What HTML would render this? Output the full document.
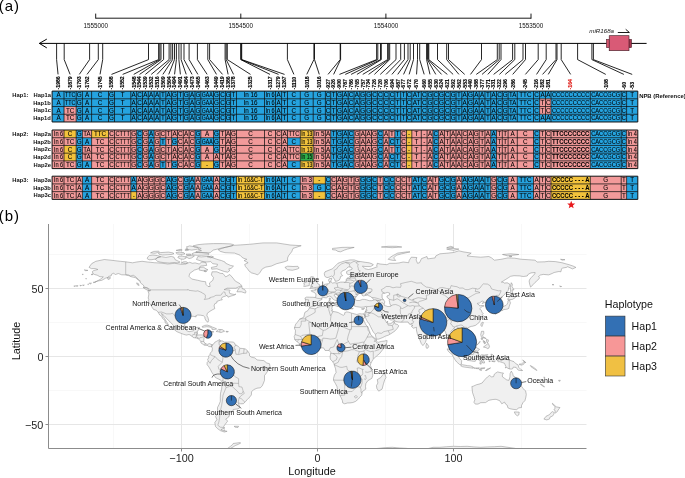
<!DOCTYPE html>
<html><head><meta charset="utf-8"><style>
html,body{margin:0;padding:0;background:#fff;}
body{width:685px;height:478px;overflow:hidden;}
svg{display:block;will-change:transform;font-family:"Liberation Sans",sans-serif;}
</style></head><body>
<svg width="685" height="478" viewBox="0 0 685 478">
<text x="-1.2" y="11" font-size="15" letter-spacing="0.9" fill="#000">(a)</text>
<g stroke="#000" stroke-width="0.9" fill="none">
<path d="M95.7,18.2H531.2"/>
<path d="M95.7,13.6V18.6"/>
<path d="M240.8,13.6V18.6"/>
<path d="M385.9,13.6V18.6"/>
<path d="M531.0,13.6V18.6"/>
</g>
<text x="95.7" y="27.9" font-size="6.3" text-anchor="middle" fill="#111">1555000</text>
<text x="240.8" y="27.9" font-size="6.3" text-anchor="middle" fill="#111">1554500</text>
<text x="385.9" y="27.9" font-size="6.3" text-anchor="middle" fill="#111">1554000</text>
<text x="531.0" y="27.9" font-size="6.3" text-anchor="middle" fill="#111">1553500</text>
<g stroke="#000" stroke-width="1" fill="none">
<path d="M39.2,43.4H646.6"/>
<path d="M46.8,39.1L39.4,43.4L46.8,47.9"/>
</g>
<rect x="606.3" y="39.3" width="3.2" height="8.4" fill="#d4566f" stroke="#3a1a22" stroke-width="0.5"/>
<rect x="628.8" y="39.3" width="2.8" height="8.4" fill="#a8344f" stroke="#3a1a22" stroke-width="0.5"/>
<rect x="609.2" y="35.7" width="19.8" height="15.0" fill="#d95a76" stroke="#3a1a22" stroke-width="0.6"/>
<text x="589.3" y="33.1" font-size="6.2" font-style="italic" fill="#111">miR168a</text>
<path d="M617.8,32.5H629.4L625.7,29.3" stroke="#000" stroke-width="0.9" fill="none"/>
<path stroke="#000" stroke-width="0.85" fill="none" d="M56.6,43.4V59.6L58.05,74.4M64.2,43.4V59.6L70.1,74.4M89.6,43.4V59.6L79.3,74.4M98.3,43.4V59.6L87,74.4M102.7,43.4V59.6L100.05,74.4M148.5,43.4V59.6L111.5,74.4M158.6,43.4V59.6L122.65,74.4M159.8,43.4V59.6L133.72,74.4M161,43.4V59.6L139.55,74.4M163.6,43.4V59.6L145.38,74.4M169.1,43.4V59.6L151.22,74.4M170.9,43.4V59.6L157.05,74.4M172.6,43.4V59.6L162.88,74.4M174.5,43.4V59.6L168.72,74.4M176.4,43.4V59.6L174.55,74.4M178.9,43.4V59.6L180.38,74.4M181.1,43.4V59.6L186.22,74.4M184,43.4V59.6L192.05,74.4M189.1,43.4V59.6L197.88,74.4M197.4,43.4V59.6L207.15,74.4M207.8,43.4V59.6L216.5,74.4M209.6,43.4V59.6L222.55,74.4M225.1,43.4V59.6L228.1,74.4M226.2,43.4V59.6L233.55,74.4M227.3,43.4V59.6L250.5,74.4M240.7,43.4V59.6L270,74.4M241.2,43.4V59.6L278.55,74.4M241.7,43.4V59.6L284.55,74.4M287.4,43.4V59.6L293.9,74.4M313.9,43.4V59.6L306.75,74.4M314.5,43.4V59.6L319.3,74.4M340.2,43.4V59.6L328.05,74.4M340.6,43.4V59.6L333.62,74.4M376.6,43.4V59.6L339.44,74.4M377.8,43.4V59.6L345.27,74.4M380.5,43.4V59.6L351.11,74.4M381.3,43.4V59.6L356.93,74.4M387.6,43.4V59.6L362.76,74.4M388.7,43.4V59.6L368.6,74.4M389.7,43.4V59.6L374.42,74.4M396,43.4V59.6L380.25,74.4M400.7,43.4V59.6L386.08,74.4M404.4,43.4V59.6L391.91,74.4M408,43.4V59.6L397.75,74.4M410.2,43.4V59.6L403.57,74.4M413.5,43.4V59.6L409.14,74.4M417.5,43.4V59.6L416.55,74.4M419.7,43.4V59.6L424.19,74.4M426.6,43.4V59.6L429.98,74.4M427.4,43.4V59.6L435.77,74.4M428.2,43.4V59.6L441.55,74.4M428.8,43.4V59.6L447.34,74.4M437.5,43.4V59.6L453.13,74.4M446.7,43.4V59.6L458.91,74.4M448.5,43.4V59.6L464.7,74.4M481.5,43.4V59.6L470.49,74.4M497.3,43.4V59.6L476.27,74.4M499.2,43.4V59.6L482.06,74.4M501,43.4V59.6L487.85,74.4M512.6,43.4V59.6L493.63,74.4M514.8,43.4V59.6L499.42,74.4M523,43.4V59.6L505.21,74.4M525.5,43.4V59.6L512.7,74.4M538.2,43.4V59.6L525.4,74.4M546.2,43.4V59.6L536.55,74.4M556,43.4V59.6L542.55,74.4M557,43.4V59.6L548.25,74.4M561.2,43.4V59.6L570.65,74.4M577.6,43.4V59.6L605.75,74.4M591.9,43.4V59.6L623.9,74.4M593.4,43.4V59.6L632.2,74.4"/>
<g font-size="5.1" font-weight="bold" fill="#000" stroke="#000" stroke-width="0.15">
<text transform="translate(59.85,89.4) rotate(-90)">-1986</text>
<text transform="translate(71.9,89.4) rotate(-90)">-1879</text>
<text transform="translate(81.1,89.4) rotate(-90)">-1793</text>
<text transform="translate(88.8,89.4) rotate(-90)">-1762</text>
<text transform="translate(101.85,89.4) rotate(-90)">-1745</text>
<text transform="translate(113.3,89.4) rotate(-90)">-1588</text>
<text transform="translate(124.45,89.4) rotate(-90)">-1552</text>
<text transform="translate(135.52,89.4) rotate(-90)">-1548</text>
<text transform="translate(141.35,89.4) rotate(-90)">-1544</text>
<text transform="translate(147.18,89.4) rotate(-90)">-1539</text>
<text transform="translate(153.02,89.4) rotate(-90)">-1532</text>
<text transform="translate(158.85,89.4) rotate(-90)">-1516</text>
<text transform="translate(164.68,89.4) rotate(-90)">-1509</text>
<text transform="translate(170.52,89.4) rotate(-90)">-1504</text>
<text transform="translate(176.35,89.4) rotate(-90)">-1494</text>
<text transform="translate(182.18,89.4) rotate(-90)">-1491</text>
<text transform="translate(188.02,89.4) rotate(-90)">-1484</text>
<text transform="translate(193.85,89.4) rotate(-90)">-1473</text>
<text transform="translate(199.68,89.4) rotate(-90)">-1465</text>
<text transform="translate(208.95,89.4) rotate(-90)">-1463</text>
<text transform="translate(218.3,89.4) rotate(-90)">-1449</text>
<text transform="translate(224.35,89.4) rotate(-90)">-1419</text>
<text transform="translate(229.9,89.4) rotate(-90)">-1386</text>
<text transform="translate(235.35,89.4) rotate(-90)">-1378</text>
<text transform="translate(252.3,89.4) rotate(-90)">-1325</text>
<text transform="translate(271.8,89.4) rotate(-90)">-1317</text>
<text transform="translate(280.35,89.4) rotate(-90)">-1279</text>
<text transform="translate(286.35,89.4) rotate(-90)">-1267</text>
<text transform="translate(295.7,89.4) rotate(-90)">-1110</text>
<text transform="translate(308.55,89.4) rotate(-90)">-1018</text>
<text transform="translate(321.1,89.4) rotate(-90)">-1016</text>
<text transform="translate(329.85,89.4) rotate(-90)">-927</text>
<text transform="translate(335.42,89.4) rotate(-90)">-926</text>
<text transform="translate(341.25,89.4) rotate(-90)">-900</text>
<text transform="translate(347.07,89.4) rotate(-90)">-787</text>
<text transform="translate(352.91,89.4) rotate(-90)">-786</text>
<text transform="translate(358.73,89.4) rotate(-90)">-765</text>
<text transform="translate(364.56,89.4) rotate(-90)">-757</text>
<text transform="translate(370.4,89.4) rotate(-90)">-734</text>
<text transform="translate(376.22,89.4) rotate(-90)">-726</text>
<text transform="translate(382.06,89.4) rotate(-90)">-720</text>
<text transform="translate(387.88,89.4) rotate(-90)">-706</text>
<text transform="translate(393.71,89.4) rotate(-90)">-694</text>
<text transform="translate(399.55,89.4) rotate(-90)">-687</text>
<text transform="translate(405.38,89.4) rotate(-90)">-677</text>
<text transform="translate(410.94,89.4) rotate(-90)">-672</text>
<text transform="translate(418.35,89.4) rotate(-90)">-670</text>
<text transform="translate(425.99,89.4) rotate(-90)">-660</text>
<text transform="translate(431.78,89.4) rotate(-90)">-655</text>
<text transform="translate(437.57,89.4) rotate(-90)">-630</text>
<text transform="translate(443.35,89.4) rotate(-90)">-624</text>
<text transform="translate(449.14,89.4) rotate(-90)">-621</text>
<text transform="translate(454.93,89.4) rotate(-90)">-592</text>
<text transform="translate(460.71,89.4) rotate(-90)">-562</text>
<text transform="translate(466.5,89.4) rotate(-90)">-553</text>
<text transform="translate(472.29,89.4) rotate(-90)">-440</text>
<text transform="translate(478.07,89.4) rotate(-90)">-388</text>
<text transform="translate(483.86,89.4) rotate(-90)">-377</text>
<text transform="translate(489.65,89.4) rotate(-90)">-371</text>
<text transform="translate(495.43,89.4) rotate(-90)">-331</text>
<text transform="translate(501.22,89.4) rotate(-90)">-322</text>
<text transform="translate(507.01,89.4) rotate(-90)">-296</text>
<text transform="translate(514.5,89.4) rotate(-90)">-286</text>
<text transform="translate(527.2,89.4) rotate(-90)">-245</text>
<text transform="translate(538.35,89.4) rotate(-90)">-216</text>
<text transform="translate(544.35,89.4) rotate(-90)">-182</text>
<text transform="translate(550.05,89.4) rotate(-90)">-181</text>
<text transform="translate(572.45,89.4) rotate(-90)" fill="#e0201b" stroke="#e0201b">-164</text>
<text transform="translate(607.55,89.4) rotate(-90)">-108</text>
<text transform="translate(625.7,89.4) rotate(-90)">-60</text>
<text transform="translate(634,89.4) rotate(-90)">-53</text>
</g>
<g font-size="5.8" font-weight="bold" fill="#111">
<text x="12.3" y="96.9">Hap1:</text>
<text x="50.9" y="96.9" text-anchor="end">Hap1a</text>
<text x="50.9" y="104.62" text-anchor="end">Hap1b</text>
<text x="50.9" y="112.34" text-anchor="end">Hap1c</text>
<text x="50.9" y="120.06" text-anchor="end">Hap1d</text>
<text x="12.3" y="135.8">Hap2:</text>
<text x="50.9" y="135.8" text-anchor="end">Hap2a</text>
<text x="50.9" y="143.52" text-anchor="end">Hap2b</text>
<text x="50.9" y="151.24" text-anchor="end">Hap2c</text>
<text x="50.9" y="158.96" text-anchor="end">Hap2d</text>
<text x="50.9" y="166.68" text-anchor="end">Hap2e</text>
<text x="12.3" y="182">Hap3:</text>
<text x="50.9" y="182" text-anchor="end">Hap3a</text>
<text x="50.9" y="189.72" text-anchor="end">Hap3b</text>
<text x="50.9" y="197.44" text-anchor="end">Hap3c</text>
</g>
<path fill="#25a3df" d="M52.1,91.1h585.7v7.72h-585.7zM52.1,98.82h487.5v7.72h-487.5zM551,98.82h86.8v7.72h-86.8zM52.1,106.54h11.9v7.72h-11.9zM76.2,106.54h463.4v7.72h-463.4zM551,106.54h86.8v7.72h-86.8zM52.1,114.26h11.9v7.72h-11.9zM76.2,114.26h561.6v7.72h-561.6zM76.2,130h6.2v7.72h-6.2zM136.63,130h5.83v7.72h-5.83zM148.3,130h5.83v7.72h-5.83zM194.97,130h5.83v7.72h-5.83zM213.5,130h6v7.72h-6zM330.7,130h23.32v7.72h-23.32zM377.34,130h5.83v7.72h-5.83zM394.83,130h5.83v7.72h-5.83zM432.87,130h5.79v7.72h-5.79zM490.74,130h5.79v7.72h-5.79zM533.5,130h6.1v7.72h-6.1zM590.3,130h36.3v7.72h-36.3zM76.2,137.72h15.4v7.72h-15.4zM136.63,137.72h5.83v7.72h-5.83zM148.3,137.72h5.83v7.72h-5.83zM159.97,137.72h5.83v7.72h-5.83zM171.63,137.72h5.83v7.72h-5.83zM194.97,137.72h24.53v7.72h-24.53zM287.5,137.72h12.8v7.72h-12.8zM330.7,137.72h23.32v7.72h-23.32zM377.34,137.72h5.83v7.72h-5.83zM389,137.72h11.66v7.72h-11.66zM432.87,137.72h5.79v7.72h-5.79zM490.74,137.72h5.79v7.72h-5.79zM533.5,137.72h6.1v7.72h-6.1zM590.3,137.72h36.3v7.72h-36.3zM76.2,145.44h6.2v7.72h-6.2zM136.63,145.44h5.83v7.72h-5.83zM148.3,145.44h5.83v7.72h-5.83zM194.97,145.44h5.83v7.72h-5.83zM213.5,145.44h6v7.72h-6zM330.7,145.44h23.32v7.72h-23.32zM377.34,145.44h5.83v7.72h-5.83zM394.83,145.44h5.83v7.72h-5.83zM432.87,145.44h5.79v7.72h-5.79zM490.74,145.44h5.79v7.72h-5.79zM533.5,145.44h6.1v7.72h-6.1zM590.3,145.44h36.3v7.72h-36.3zM76.2,153.16h6.2v7.72h-6.2zM136.63,153.16h5.83v7.72h-5.83zM148.3,153.16h5.83v7.72h-5.83zM194.97,153.16h5.83v7.72h-5.83zM330.7,153.16h23.32v7.72h-23.32zM377.34,153.16h5.83v7.72h-5.83zM389,153.16h11.66v7.72h-11.66zM432.87,153.16h5.79v7.72h-5.79zM490.74,153.16h5.79v7.72h-5.79zM533.5,153.16h6.1v7.72h-6.1zM590.3,153.16h36.3v7.72h-36.3zM76.2,160.88h15.4v7.72h-15.4zM136.63,160.88h5.83v7.72h-5.83zM148.3,160.88h5.83v7.72h-5.83zM159.97,160.88h5.83v7.72h-5.83zM171.63,160.88h5.83v7.72h-5.83zM194.97,160.88h5.83v7.72h-5.83zM213.5,160.88h6v7.72h-6zM287.5,160.88h12.8v7.72h-12.8zM330.7,160.88h23.32v7.72h-23.32zM377.34,160.88h5.83v7.72h-5.83zM389,160.88h11.66v7.72h-11.66zM432.87,160.88h5.79v7.72h-5.79zM490.74,160.88h5.79v7.72h-5.79zM533.5,160.88h6.1v7.72h-6.1zM590.3,160.88h36.3v7.72h-36.3zM82.4,176.2h9.2v7.72h-9.2zM130.8,176.2h5.83v7.72h-5.83zM165.8,176.2h11.67v7.72h-11.67zM183.3,176.2h11.67v7.72h-11.67zM200.8,176.2h12.7v7.72h-12.7zM219.5,176.2h17v7.72h-17zM264.5,176.2h35.8v7.72h-35.8zM325.4,176.2h5.3v7.72h-5.3zM359.85,176.2h17.49v7.72h-17.49zM383.17,176.2h11.66v7.72h-11.66zM411.8,176.2h15.29v7.72h-15.29zM438.66,176.2h17.36v7.72h-17.36zM461.81,176.2h28.93v7.72h-28.93zM496.53,176.2h11.57v7.72h-11.57zM517.3,176.2h16.2v7.72h-16.2zM626.6,176.2h11.2v7.72h-11.2zM82.4,183.92h9.2v7.72h-9.2zM130.8,183.92h5.83v7.72h-5.83zM165.8,183.92h11.67v7.72h-11.67zM183.3,183.92h11.67v7.72h-11.67zM200.8,183.92h12.7v7.72h-12.7zM219.5,183.92h17v7.72h-17zM264.5,183.92h35.8v7.72h-35.8zM313.2,183.92h17.5v7.72h-17.5zM359.85,183.92h17.49v7.72h-17.49zM383.17,183.92h11.66v7.72h-11.66zM411.8,183.92h15.29v7.72h-15.29zM438.66,183.92h17.36v7.72h-17.36zM461.81,183.92h28.93v7.72h-28.93zM496.53,183.92h11.57v7.72h-11.57zM517.3,183.92h16.2v7.72h-16.2zM626.6,183.92h11.2v7.72h-11.2zM82.4,191.64h9.2v7.72h-9.2zM165.8,191.64h11.67v7.72h-11.67zM183.3,191.64h11.67v7.72h-11.67zM200.8,191.64h12.7v7.72h-12.7zM219.5,191.64h17v7.72h-17zM264.5,191.64h35.8v7.72h-35.8zM325.4,191.64h5.3v7.72h-5.3zM359.85,191.64h17.49v7.72h-17.49zM383.17,191.64h11.66v7.72h-11.66zM411.8,191.64h15.29v7.72h-15.29zM438.66,191.64h17.36v7.72h-17.36zM461.81,191.64h28.93v7.72h-28.93zM496.53,191.64h11.57v7.72h-11.57zM517.3,191.64h16.2v7.72h-16.2zM626.6,191.64h11.2v7.72h-11.2z"/>
<path fill="#f29a9a" d="M539.6,98.82h11.4v7.72h-11.4zM64,106.54h12.2v7.72h-12.2zM539.6,106.54h11.4v7.72h-11.4zM64,114.26h12.2v7.72h-12.2zM52.1,130h11.9v7.72h-11.9zM82.4,130h9.2v7.72h-9.2zM108.5,130h28.13v7.72h-28.13zM142.47,130h5.83v7.72h-5.83zM154.13,130h40.83v7.72h-40.83zM200.8,130h12.7v7.72h-12.7zM219.5,130h80.8v7.72h-80.8zM313.2,130h17.5v7.72h-17.5zM354.02,130h23.32v7.72h-23.32zM383.17,130h11.66v7.72h-11.66zM400.66,130h5.83v7.72h-5.83zM411.8,130h21.07v7.72h-21.07zM438.66,130h52.08v7.72h-52.08zM496.53,130h36.97v7.72h-36.97zM539.6,130h50.7v7.72h-50.7zM626.6,130h11.2v7.72h-11.2zM52.1,137.72h24.1v7.72h-24.1zM91.6,137.72h45.03v7.72h-45.03zM142.47,137.72h5.83v7.72h-5.83zM154.13,137.72h5.83v7.72h-5.83zM165.8,137.72h5.83v7.72h-5.83zM177.47,137.72h17.5v7.72h-17.5zM219.5,137.72h68v7.72h-68zM313.2,137.72h17.5v7.72h-17.5zM354.02,137.72h23.32v7.72h-23.32zM383.17,137.72h5.83v7.72h-5.83zM400.66,137.72h5.83v7.72h-5.83zM411.8,137.72h21.07v7.72h-21.07zM438.66,137.72h52.08v7.72h-52.08zM496.53,137.72h36.97v7.72h-36.97zM539.6,137.72h50.7v7.72h-50.7zM626.6,137.72h11.2v7.72h-11.2zM52.1,145.44h11.9v7.72h-11.9zM82.4,145.44h54.23v7.72h-54.23zM142.47,145.44h5.83v7.72h-5.83zM154.13,145.44h40.83v7.72h-40.83zM200.8,145.44h12.7v7.72h-12.7zM219.5,145.44h80.8v7.72h-80.8zM313.2,145.44h17.5v7.72h-17.5zM354.02,145.44h23.32v7.72h-23.32zM383.17,145.44h11.66v7.72h-11.66zM400.66,145.44h5.83v7.72h-5.83zM411.8,145.44h21.07v7.72h-21.07zM438.66,145.44h52.08v7.72h-52.08zM496.53,145.44h36.97v7.72h-36.97zM539.6,145.44h50.7v7.72h-50.7zM626.6,145.44h11.2v7.72h-11.2zM52.1,153.16h11.9v7.72h-11.9zM82.4,153.16h54.23v7.72h-54.23zM142.47,153.16h5.83v7.72h-5.83zM154.13,153.16h40.83v7.72h-40.83zM200.8,153.16h99.5v7.72h-99.5zM313.2,153.16h17.5v7.72h-17.5zM354.02,153.16h23.32v7.72h-23.32zM383.17,153.16h5.83v7.72h-5.83zM400.66,153.16h5.83v7.72h-5.83zM411.8,153.16h21.07v7.72h-21.07zM438.66,153.16h52.08v7.72h-52.08zM496.53,153.16h36.97v7.72h-36.97zM539.6,153.16h50.7v7.72h-50.7zM626.6,153.16h11.2v7.72h-11.2zM52.1,160.88h24.1v7.72h-24.1zM91.6,160.88h45.03v7.72h-45.03zM142.47,160.88h5.83v7.72h-5.83zM154.13,160.88h5.83v7.72h-5.83zM165.8,160.88h5.83v7.72h-5.83zM177.47,160.88h17.5v7.72h-17.5zM219.5,160.88h68v7.72h-68zM313.2,160.88h17.5v7.72h-17.5zM354.02,160.88h23.32v7.72h-23.32zM383.17,160.88h5.83v7.72h-5.83zM400.66,160.88h5.83v7.72h-5.83zM411.8,160.88h21.07v7.72h-21.07zM438.66,160.88h52.08v7.72h-52.08zM496.53,160.88h36.97v7.72h-36.97zM539.6,160.88h50.7v7.72h-50.7zM626.6,160.88h11.2v7.72h-11.2zM52.1,176.2h30.3v7.72h-30.3zM91.6,176.2h39.2v7.72h-39.2zM136.63,176.2h29.17v7.72h-29.17zM177.47,176.2h5.83v7.72h-5.83zM194.97,176.2h5.83v7.72h-5.83zM213.5,176.2h6v7.72h-6zM300.3,176.2h12.9v7.72h-12.9zM330.7,176.2h29.15v7.72h-29.15zM377.34,176.2h5.83v7.72h-5.83zM394.83,176.2h16.97v7.72h-16.97zM427.09,176.2h11.57v7.72h-11.57zM456.02,176.2h5.79v7.72h-5.79zM490.74,176.2h5.79v7.72h-5.79zM508.1,176.2h9.2v7.72h-9.2zM533.5,176.2h17.5v7.72h-17.5zM590.3,176.2h36.3v7.72h-36.3zM52.1,183.92h30.3v7.72h-30.3zM91.6,183.92h39.2v7.72h-39.2zM136.63,183.92h29.17v7.72h-29.17zM177.47,183.92h5.83v7.72h-5.83zM194.97,183.92h5.83v7.72h-5.83zM213.5,183.92h6v7.72h-6zM300.3,183.92h12.9v7.72h-12.9zM330.7,183.92h29.15v7.72h-29.15zM377.34,183.92h5.83v7.72h-5.83zM394.83,183.92h16.97v7.72h-16.97zM427.09,183.92h11.57v7.72h-11.57zM456.02,183.92h5.79v7.72h-5.79zM490.74,183.92h5.79v7.72h-5.79zM508.1,183.92h9.2v7.72h-9.2zM533.5,183.92h17.5v7.72h-17.5zM590.3,183.92h36.3v7.72h-36.3zM52.1,191.64h30.3v7.72h-30.3zM91.6,191.64h39.2v7.72h-39.2zM136.63,191.64h29.17v7.72h-29.17zM177.47,191.64h5.83v7.72h-5.83zM194.97,191.64h5.83v7.72h-5.83zM213.5,191.64h6v7.72h-6zM300.3,191.64h12.9v7.72h-12.9zM330.7,191.64h29.15v7.72h-29.15zM377.34,191.64h5.83v7.72h-5.83zM394.83,191.64h16.97v7.72h-16.97zM427.09,191.64h11.57v7.72h-11.57zM456.02,191.64h5.79v7.72h-5.79zM490.74,191.64h5.79v7.72h-5.79zM508.1,191.64h9.2v7.72h-9.2zM533.5,191.64h17.5v7.72h-17.5zM590.3,191.64h36.3v7.72h-36.3z"/>
<path fill="#f2c23c" d="M64,130h12.2v7.72h-12.2zM91.6,130h16.9v7.72h-16.9zM300.3,130h12.9v7.72h-12.9zM406.49,130h5.31v7.72h-5.31zM300.3,137.72h12.9v7.72h-12.9zM406.49,137.72h5.31v7.72h-5.31zM64,145.44h12.2v7.72h-12.2zM300.3,145.44h12.9v7.72h-12.9zM406.49,145.44h5.31v7.72h-5.31zM64,153.16h12.2v7.72h-12.2zM406.49,153.16h5.31v7.72h-5.31zM200.8,160.88h12.7v7.72h-12.7zM300.3,160.88h12.9v7.72h-12.9zM406.49,160.88h5.31v7.72h-5.31zM236.5,176.2h28v7.72h-28zM313.2,176.2h12.2v7.72h-12.2zM551,176.2h39.3v7.72h-39.3zM236.5,183.92h28v7.72h-28zM551,183.92h39.3v7.72h-39.3zM130.8,191.64h5.83v7.72h-5.83zM236.5,191.64h28v7.72h-28zM313.2,191.64h12.2v7.72h-12.2zM551,191.64h39.3v7.72h-39.3z"/>
<path fill="#2eaf4a" d="M300.3,153.16h12.9v7.72h-12.9z"/>
<path fill="none" stroke="#111" stroke-width="0.75" d="M52.1,98.82H637.8M52.1,106.54H637.8M52.1,114.26H637.8M64,91.1v30.88M76.2,91.1v30.88M82.4,91.1v30.88M91.6,91.1v30.88M108.5,91.1v30.88M114.5,91.1v30.88M130.8,91.1v30.88M136.63,91.1v30.88M142.47,91.1v30.88M148.3,91.1v30.88M154.13,91.1v30.88M159.97,91.1v30.88M165.8,91.1v30.88M171.63,91.1v30.88M177.47,91.1v30.88M183.3,91.1v30.88M189.13,91.1v30.88M194.97,91.1v30.88M200.8,91.1v30.88M213.5,91.1v30.88M219.5,91.1v30.88M225.6,91.1v30.88M230.6,91.1v30.88M236.5,91.1v30.88M264.5,91.1v30.88M275.5,91.1v30.88M281.6,91.1v30.88M287.5,91.1v30.88M300.3,91.1v30.88M313.2,91.1v30.88M325.4,91.1v30.88M330.7,91.1v30.88M336.53,91.1v30.88M342.36,91.1v30.88M348.19,91.1v30.88M354.02,91.1v30.88M359.85,91.1v30.88M365.68,91.1v30.88M371.51,91.1v30.88M377.34,91.1v30.88M383.17,91.1v30.88M389,91.1v30.88M394.83,91.1v30.88M400.66,91.1v30.88M406.49,91.1v30.88M411.8,91.1v30.88M421.3,91.1v30.88M427.09,91.1v30.88M432.87,91.1v30.88M438.66,91.1v30.88M444.45,91.1v30.88M450.23,91.1v30.88M456.02,91.1v30.88M461.81,91.1v30.88M467.59,91.1v30.88M473.38,91.1v30.88M479.17,91.1v30.88M484.95,91.1v30.88M490.74,91.1v30.88M496.53,91.1v30.88M502.31,91.1v30.88M508.1,91.1v30.88M517.3,91.1v30.88M533.5,91.1v30.88M539.6,91.1v30.88M545.5,91.1v30.88M551,91.1v30.88M590.3,91.1v30.88M621.2,91.1v30.88M626.6,91.1v30.88M52.1,137.72H637.8M52.1,145.44H637.8M52.1,153.16H637.8M52.1,160.88H637.8M64,130v38.6M76.2,130v38.6M82.4,130v38.6M91.6,130v38.6M108.5,130v38.6M114.5,130v38.6M130.8,130v38.6M136.63,130v38.6M142.47,130v38.6M148.3,130v38.6M154.13,130v38.6M159.97,130v38.6M165.8,130v38.6M171.63,130v38.6M177.47,130v38.6M183.3,130v38.6M189.13,130v38.6M194.97,130v38.6M200.8,130v38.6M213.5,130v38.6M219.5,130v38.6M225.6,130v38.6M230.6,130v38.6M236.5,130v38.6M264.5,130v38.6M275.5,130v38.6M281.6,130v38.6M287.5,130v38.6M300.3,130v38.6M313.2,130v38.6M325.4,130v38.6M330.7,130v38.6M336.53,130v38.6M342.36,130v38.6M348.19,130v38.6M354.02,130v38.6M359.85,130v38.6M365.68,130v38.6M371.51,130v38.6M377.34,130v38.6M383.17,130v38.6M389,130v38.6M394.83,130v38.6M400.66,130v38.6M406.49,130v38.6M411.8,130v38.6M421.3,130v38.6M427.09,130v38.6M432.87,130v38.6M438.66,130v38.6M444.45,130v38.6M450.23,130v38.6M456.02,130v38.6M461.81,130v38.6M467.59,130v38.6M473.38,130v38.6M479.17,130v38.6M484.95,130v38.6M490.74,130v38.6M496.53,130v38.6M502.31,130v38.6M508.1,130v38.6M517.3,130v38.6M533.5,130v38.6M539.6,130v38.6M545.5,130v38.6M551,130v38.6M590.3,130v38.6M621.2,130v38.6M626.6,130v38.6M52.1,183.92H637.8M52.1,191.64H637.8M64,176.2v23.16M76.2,176.2v23.16M82.4,176.2v23.16M91.6,176.2v23.16M108.5,176.2v23.16M114.5,176.2v23.16M130.8,176.2v23.16M136.63,176.2v23.16M142.47,176.2v23.16M148.3,176.2v23.16M154.13,176.2v23.16M159.97,176.2v23.16M165.8,176.2v23.16M171.63,176.2v23.16M177.47,176.2v23.16M183.3,176.2v23.16M189.13,176.2v23.16M194.97,176.2v23.16M200.8,176.2v23.16M213.5,176.2v23.16M219.5,176.2v23.16M225.6,176.2v23.16M230.6,176.2v23.16M236.5,176.2v23.16M264.5,176.2v23.16M275.5,176.2v23.16M281.6,176.2v23.16M287.5,176.2v23.16M300.3,176.2v23.16M313.2,176.2v23.16M325.4,176.2v23.16M330.7,176.2v23.16M336.53,176.2v23.16M342.36,176.2v23.16M348.19,176.2v23.16M354.02,176.2v23.16M359.85,176.2v23.16M365.68,176.2v23.16M371.51,176.2v23.16M377.34,176.2v23.16M383.17,176.2v23.16M389,176.2v23.16M394.83,176.2v23.16M400.66,176.2v23.16M406.49,176.2v23.16M411.8,176.2v23.16M421.3,176.2v23.16M427.09,176.2v23.16M432.87,176.2v23.16M438.66,176.2v23.16M444.45,176.2v23.16M450.23,176.2v23.16M456.02,176.2v23.16M461.81,176.2v23.16M467.59,176.2v23.16M473.38,176.2v23.16M479.17,176.2v23.16M484.95,176.2v23.16M490.74,176.2v23.16M496.53,176.2v23.16M502.31,176.2v23.16M508.1,176.2v23.16M517.3,176.2v23.16M533.5,176.2v23.16M539.6,176.2v23.16M545.5,176.2v23.16M551,176.2v23.16M590.3,176.2v23.16M621.2,176.2v23.16M626.6,176.2v23.16"/>
<path fill="none" stroke="#111" stroke-width="1" d="M52.1,91.1H637.8V121.98H52.1zM52.1,130H637.8V168.6H52.1zM52.1,176.2H637.8V199.36H52.1z"/>
<g font-size="6.3" text-anchor="middle" fill="#000" stroke="#000" stroke-width="0.06">
<text x="58.55" y="97.3">A</text>
<text x="70.1" y="97.3" textLength="10.4" lengthAdjust="spacingAndGlyphs">TTC</text>
<text x="79.3" y="97.3">G</text>
<text x="87" y="97.3">A</text>
<text x="100.05" y="97.3">C</text>
<text x="111.5" y="97.3">G</text>
<text x="122.65" y="97.3">T</text>
<text x="133.72" y="97.3">A</text>
<text x="139.55" y="97.3">C</text>
<text x="145.38" y="97.3">A</text>
<text x="151.22" y="97.3">A</text>
<text x="157.05" y="97.3">A</text>
<text x="162.88" y="97.3">T</text>
<text x="168.72" y="97.3">A</text>
<text x="174.55" y="97.3">G</text>
<text x="180.38" y="97.3">T</text>
<text x="186.22" y="97.3">G</text>
<text x="192.05" y="97.3">A</text>
<text x="197.88" y="97.3">G</text>
<text x="207.15" y="97.3" textLength="10.9" lengthAdjust="spacingAndGlyphs">GAA</text>
<text x="216.5" y="97.3">G</text>
<text x="222.55" y="97.3">C</text>
<text x="228.1" y="97.3">G</text>
<text x="233.55" y="97.3">T</text>
<text x="250.5" y="97.3">In 16</text>
<text x="270" y="97.3" textLength="9.2" lengthAdjust="spacingAndGlyphs">In 6</text>
<text x="278.55" y="97.3">A</text>
<text x="284.55" y="97.3">T</text>
<text x="293.9" y="97.3">C</text>
<text x="306.75" y="97.3">G</text>
<text x="319.3" y="97.3">G</text>
<text x="328.05" y="97.3">C</text>
<text x="333.62" y="97.3">T</text>
<text x="339.44" y="97.3">G</text>
<text x="345.27" y="97.3">A</text>
<text x="351.11" y="97.3">C</text>
<text x="356.93" y="97.3">A</text>
<text x="362.76" y="97.3">G</text>
<text x="368.6" y="97.3">G</text>
<text x="374.42" y="97.3">C</text>
<text x="380.25" y="97.3">C</text>
<text x="386.08" y="97.3">C</text>
<text x="391.91" y="97.3">C</text>
<text x="397.75" y="97.3">T</text>
<text x="403.57" y="97.3">T</text>
<text x="409.14" y="97.3">C</text>
<text x="416.55" y="97.3" textLength="7.7" lengthAdjust="spacingAndGlyphs">AT</text>
<text x="424.19" y="97.3">C</text>
<text x="429.98" y="97.3">G</text>
<text x="435.77" y="97.3">C</text>
<text x="441.55" y="97.3">G</text>
<text x="447.34" y="97.3">C</text>
<text x="453.13" y="97.3">G</text>
<text x="458.91" y="97.3">T</text>
<text x="464.7" y="97.3">A</text>
<text x="470.49" y="97.3">G</text>
<text x="476.27" y="97.3">A</text>
<text x="482.06" y="97.3">A</text>
<text x="487.85" y="97.3">T</text>
<text x="493.63" y="97.3">A</text>
<text x="499.42" y="97.3">C</text>
<text x="505.21" y="97.3">G</text>
<text x="512.7" y="97.3" textLength="7.4" lengthAdjust="spacingAndGlyphs">TA</text>
<text x="525.4" y="97.3">TTC</text>
<text x="536.55" y="97.3">C</text>
<text x="542.55" y="97.3">A</text>
<text x="548.25" y="97.3">A</text>
<text x="570.65" y="97.3" textLength="37.5" lengthAdjust="spacingAndGlyphs">CCCCCCCCC</text>
<text x="605.75" y="97.3" textLength="29.1" lengthAdjust="spacingAndGlyphs">CACCGCG</text>
<text x="623.9" y="97.3">C</text>
<text x="632.2" y="97.3">T</text>
<text x="58.55" y="105.02">A</text>
<text x="70.1" y="105.02" textLength="10.4" lengthAdjust="spacingAndGlyphs">TTC</text>
<text x="79.3" y="105.02">G</text>
<text x="87" y="105.02">A</text>
<text x="100.05" y="105.02">C</text>
<text x="111.5" y="105.02">G</text>
<text x="122.65" y="105.02">T</text>
<text x="133.72" y="105.02">A</text>
<text x="139.55" y="105.02">C</text>
<text x="145.38" y="105.02">A</text>
<text x="151.22" y="105.02">A</text>
<text x="157.05" y="105.02">A</text>
<text x="162.88" y="105.02">T</text>
<text x="168.72" y="105.02">A</text>
<text x="174.55" y="105.02">G</text>
<text x="180.38" y="105.02">T</text>
<text x="186.22" y="105.02">G</text>
<text x="192.05" y="105.02">A</text>
<text x="197.88" y="105.02">G</text>
<text x="207.15" y="105.02" textLength="10.9" lengthAdjust="spacingAndGlyphs">GAA</text>
<text x="216.5" y="105.02">G</text>
<text x="222.55" y="105.02">C</text>
<text x="228.1" y="105.02">G</text>
<text x="233.55" y="105.02">T</text>
<text x="250.5" y="105.02">In 16</text>
<text x="270" y="105.02" textLength="9.2" lengthAdjust="spacingAndGlyphs">In 6</text>
<text x="278.55" y="105.02">A</text>
<text x="284.55" y="105.02">T</text>
<text x="293.9" y="105.02">C</text>
<text x="306.75" y="105.02">G</text>
<text x="319.3" y="105.02">G</text>
<text x="328.05" y="105.02">C</text>
<text x="333.62" y="105.02">T</text>
<text x="339.44" y="105.02">G</text>
<text x="345.27" y="105.02">A</text>
<text x="351.11" y="105.02">C</text>
<text x="356.93" y="105.02">A</text>
<text x="362.76" y="105.02">G</text>
<text x="368.6" y="105.02">G</text>
<text x="374.42" y="105.02">C</text>
<text x="380.25" y="105.02">C</text>
<text x="386.08" y="105.02">C</text>
<text x="391.91" y="105.02">C</text>
<text x="397.75" y="105.02">T</text>
<text x="403.57" y="105.02">T</text>
<text x="409.14" y="105.02">C</text>
<text x="416.55" y="105.02" textLength="7.7" lengthAdjust="spacingAndGlyphs">AT</text>
<text x="424.19" y="105.02">C</text>
<text x="429.98" y="105.02">G</text>
<text x="435.77" y="105.02">C</text>
<text x="441.55" y="105.02">G</text>
<text x="447.34" y="105.02">C</text>
<text x="453.13" y="105.02">G</text>
<text x="458.91" y="105.02">T</text>
<text x="464.7" y="105.02">A</text>
<text x="470.49" y="105.02">G</text>
<text x="476.27" y="105.02">A</text>
<text x="482.06" y="105.02">A</text>
<text x="487.85" y="105.02">T</text>
<text x="493.63" y="105.02">A</text>
<text x="499.42" y="105.02">C</text>
<text x="505.21" y="105.02">G</text>
<text x="512.7" y="105.02" textLength="7.4" lengthAdjust="spacingAndGlyphs">TA</text>
<text x="525.4" y="105.02">TTC</text>
<text x="536.55" y="105.02">C</text>
<text x="542.55" y="105.02">T</text>
<text x="548.25" y="105.02">C</text>
<text x="570.65" y="105.02" textLength="37.5" lengthAdjust="spacingAndGlyphs">CCCCCCCCC</text>
<text x="605.75" y="105.02" textLength="29.1" lengthAdjust="spacingAndGlyphs">CACCGCG</text>
<text x="623.9" y="105.02">C</text>
<text x="632.2" y="105.02">T</text>
<text x="58.55" y="112.74">A</text>
<text x="70.1" y="112.74">TC</text>
<text x="79.3" y="112.74">G</text>
<text x="87" y="112.74">A</text>
<text x="100.05" y="112.74">C</text>
<text x="111.5" y="112.74">G</text>
<text x="122.65" y="112.74">T</text>
<text x="133.72" y="112.74">A</text>
<text x="139.55" y="112.74">C</text>
<text x="145.38" y="112.74">A</text>
<text x="151.22" y="112.74">A</text>
<text x="157.05" y="112.74">A</text>
<text x="162.88" y="112.74">T</text>
<text x="168.72" y="112.74">A</text>
<text x="174.55" y="112.74">G</text>
<text x="180.38" y="112.74">T</text>
<text x="186.22" y="112.74">G</text>
<text x="192.05" y="112.74">A</text>
<text x="197.88" y="112.74">G</text>
<text x="207.15" y="112.74" textLength="10.9" lengthAdjust="spacingAndGlyphs">GAA</text>
<text x="216.5" y="112.74">G</text>
<text x="222.55" y="112.74">C</text>
<text x="228.1" y="112.74">G</text>
<text x="233.55" y="112.74">T</text>
<text x="250.5" y="112.74">In 16</text>
<text x="270" y="112.74" textLength="9.2" lengthAdjust="spacingAndGlyphs">In 6</text>
<text x="278.55" y="112.74">A</text>
<text x="284.55" y="112.74">T</text>
<text x="293.9" y="112.74">C</text>
<text x="306.75" y="112.74">G</text>
<text x="319.3" y="112.74">G</text>
<text x="328.05" y="112.74">C</text>
<text x="333.62" y="112.74">T</text>
<text x="339.44" y="112.74">G</text>
<text x="345.27" y="112.74">A</text>
<text x="351.11" y="112.74">C</text>
<text x="356.93" y="112.74">A</text>
<text x="362.76" y="112.74">G</text>
<text x="368.6" y="112.74">G</text>
<text x="374.42" y="112.74">C</text>
<text x="380.25" y="112.74">C</text>
<text x="386.08" y="112.74">C</text>
<text x="391.91" y="112.74">C</text>
<text x="397.75" y="112.74">T</text>
<text x="403.57" y="112.74">T</text>
<text x="409.14" y="112.74">C</text>
<text x="416.55" y="112.74" textLength="7.7" lengthAdjust="spacingAndGlyphs">AT</text>
<text x="424.19" y="112.74">C</text>
<text x="429.98" y="112.74">G</text>
<text x="435.77" y="112.74">C</text>
<text x="441.55" y="112.74">G</text>
<text x="447.34" y="112.74">C</text>
<text x="453.13" y="112.74">G</text>
<text x="458.91" y="112.74">T</text>
<text x="464.7" y="112.74">A</text>
<text x="470.49" y="112.74">G</text>
<text x="476.27" y="112.74">A</text>
<text x="482.06" y="112.74">A</text>
<text x="487.85" y="112.74">T</text>
<text x="493.63" y="112.74">A</text>
<text x="499.42" y="112.74">C</text>
<text x="505.21" y="112.74">G</text>
<text x="512.7" y="112.74" textLength="7.4" lengthAdjust="spacingAndGlyphs">TA</text>
<text x="525.4" y="112.74">TTC</text>
<text x="536.55" y="112.74">C</text>
<text x="542.55" y="112.74">T</text>
<text x="548.25" y="112.74">C</text>
<text x="570.65" y="112.74" textLength="37.5" lengthAdjust="spacingAndGlyphs">CCCCCCCCC</text>
<text x="605.75" y="112.74" textLength="29.1" lengthAdjust="spacingAndGlyphs">CACCGCG</text>
<text x="623.9" y="112.74">C</text>
<text x="632.2" y="112.74">T</text>
<text x="58.55" y="120.46">A</text>
<text x="70.1" y="120.46">TC</text>
<text x="79.3" y="120.46">G</text>
<text x="87" y="120.46">A</text>
<text x="100.05" y="120.46">C</text>
<text x="111.5" y="120.46">G</text>
<text x="122.65" y="120.46">T</text>
<text x="133.72" y="120.46">A</text>
<text x="139.55" y="120.46">C</text>
<text x="145.38" y="120.46">A</text>
<text x="151.22" y="120.46">A</text>
<text x="157.05" y="120.46">A</text>
<text x="162.88" y="120.46">T</text>
<text x="168.72" y="120.46">A</text>
<text x="174.55" y="120.46">G</text>
<text x="180.38" y="120.46">T</text>
<text x="186.22" y="120.46">G</text>
<text x="192.05" y="120.46">A</text>
<text x="197.88" y="120.46">G</text>
<text x="207.15" y="120.46" textLength="10.9" lengthAdjust="spacingAndGlyphs">GAA</text>
<text x="216.5" y="120.46">G</text>
<text x="222.55" y="120.46">C</text>
<text x="228.1" y="120.46">G</text>
<text x="233.55" y="120.46">T</text>
<text x="250.5" y="120.46">In 16</text>
<text x="270" y="120.46" textLength="9.2" lengthAdjust="spacingAndGlyphs">In 6</text>
<text x="278.55" y="120.46">A</text>
<text x="284.55" y="120.46">T</text>
<text x="293.9" y="120.46">C</text>
<text x="306.75" y="120.46">G</text>
<text x="319.3" y="120.46">G</text>
<text x="328.05" y="120.46">C</text>
<text x="333.62" y="120.46">T</text>
<text x="339.44" y="120.46">G</text>
<text x="345.27" y="120.46">A</text>
<text x="351.11" y="120.46">C</text>
<text x="356.93" y="120.46">A</text>
<text x="362.76" y="120.46">G</text>
<text x="368.6" y="120.46">G</text>
<text x="374.42" y="120.46">C</text>
<text x="380.25" y="120.46">C</text>
<text x="386.08" y="120.46">C</text>
<text x="391.91" y="120.46">C</text>
<text x="397.75" y="120.46">T</text>
<text x="403.57" y="120.46">T</text>
<text x="409.14" y="120.46">C</text>
<text x="416.55" y="120.46" textLength="7.7" lengthAdjust="spacingAndGlyphs">AT</text>
<text x="424.19" y="120.46">C</text>
<text x="429.98" y="120.46">G</text>
<text x="435.77" y="120.46">C</text>
<text x="441.55" y="120.46">G</text>
<text x="447.34" y="120.46">C</text>
<text x="453.13" y="120.46">G</text>
<text x="458.91" y="120.46">T</text>
<text x="464.7" y="120.46">A</text>
<text x="470.49" y="120.46">G</text>
<text x="476.27" y="120.46">A</text>
<text x="482.06" y="120.46">A</text>
<text x="487.85" y="120.46">T</text>
<text x="493.63" y="120.46">A</text>
<text x="499.42" y="120.46">C</text>
<text x="505.21" y="120.46">G</text>
<text x="512.7" y="120.46" textLength="7.4" lengthAdjust="spacingAndGlyphs">TA</text>
<text x="525.4" y="120.46">TTC</text>
<text x="536.55" y="120.46">C</text>
<text x="542.55" y="120.46">A</text>
<text x="548.25" y="120.46">A</text>
<text x="570.65" y="120.46" textLength="37.5" lengthAdjust="spacingAndGlyphs">CCCCCCCCC</text>
<text x="605.75" y="120.46" textLength="29.1" lengthAdjust="spacingAndGlyphs">CACCGCG</text>
<text x="623.9" y="120.46">C</text>
<text x="632.2" y="120.46">T</text>
<text x="58.55" y="136.2" textLength="9.5" lengthAdjust="spacingAndGlyphs">In 6</text>
<text x="70.1" y="136.2">C</text>
<text x="79.3" y="136.2">G</text>
<text x="87" y="136.2" textLength="7.4" lengthAdjust="spacingAndGlyphs">TA</text>
<text x="100.05" y="136.2">TTC</text>
<text x="111.5" y="136.2">C</text>
<text x="122.65" y="136.2" textLength="14.5" lengthAdjust="spacingAndGlyphs">CTTT</text>
<text x="133.72" y="136.2">G</text>
<text x="139.55" y="136.2">C</text>
<text x="145.38" y="136.2">G</text>
<text x="151.22" y="136.2">A</text>
<text x="157.05" y="136.2">G</text>
<text x="162.88" y="136.2">C</text>
<text x="168.72" y="136.2">T</text>
<text x="174.55" y="136.2">A</text>
<text x="180.38" y="136.2">C</text>
<text x="186.22" y="136.2">A</text>
<text x="192.05" y="136.2">C</text>
<text x="197.88" y="136.2">G</text>
<text x="207.15" y="136.2">A</text>
<text x="216.5" y="136.2">G</text>
<text x="222.55" y="136.2">T</text>
<text x="228.1" y="136.2">A</text>
<text x="233.55" y="136.2">G</text>
<text x="250.5" y="136.2">C</text>
<text x="270" y="136.2">C</text>
<text x="278.55" y="136.2">C</text>
<text x="284.55" y="136.2">A</text>
<text x="293.9" y="136.2" textLength="11" lengthAdjust="spacingAndGlyphs">TTC</text>
<text x="306.75" y="136.2" textLength="11.1" lengthAdjust="spacingAndGlyphs">In 13</text>
<text x="319.3" y="136.2" textLength="10.4" lengthAdjust="spacingAndGlyphs">In 5</text>
<text x="328.05" y="136.2">A</text>
<text x="333.62" y="136.2">T</text>
<text x="339.44" y="136.2">G</text>
<text x="345.27" y="136.2">A</text>
<text x="351.11" y="136.2">C</text>
<text x="356.93" y="136.2">G</text>
<text x="362.76" y="136.2">A</text>
<text x="368.6" y="136.2">A</text>
<text x="374.42" y="136.2">G</text>
<text x="380.25" y="136.2">C</text>
<text x="386.08" y="136.2">A</text>
<text x="391.91" y="136.2">T</text>
<text x="397.75" y="136.2">T</text>
<text x="403.57" y="136.2">C</text>
<text x="409.14" y="136.2">-</text>
<text x="416.55" y="136.2">T</text>
<text x="424.19" y="136.2">-</text>
<text x="429.98" y="136.2">A</text>
<text x="435.77" y="136.2">C</text>
<text x="441.55" y="136.2">A</text>
<text x="447.34" y="136.2">T</text>
<text x="453.13" y="136.2">A</text>
<text x="458.91" y="136.2">A</text>
<text x="464.7" y="136.2">C</text>
<text x="470.49" y="136.2">A</text>
<text x="476.27" y="136.2">G</text>
<text x="482.06" y="136.2">T</text>
<text x="487.85" y="136.2">A</text>
<text x="493.63" y="136.2">A</text>
<text x="499.42" y="136.2">T</text>
<text x="505.21" y="136.2">T</text>
<text x="512.7" y="136.2">A</text>
<text x="525.4" y="136.2">C</text>
<text x="536.55" y="136.2">C</text>
<text x="542.55" y="136.2">T</text>
<text x="548.25" y="136.2">C</text>
<text x="570.65" y="136.2" font-weight="bold" textLength="37.5" lengthAdjust="spacingAndGlyphs">TTCCCCCCC</text>
<text x="605.75" y="136.2" textLength="29.1" lengthAdjust="spacingAndGlyphs">CACCGCG</text>
<text x="623.9" y="136.2">C</text>
<text x="632.2" y="136.2" textLength="9.4" lengthAdjust="spacingAndGlyphs">In 4</text>
<text x="58.55" y="143.92" textLength="9.5" lengthAdjust="spacingAndGlyphs">In 6</text>
<text x="70.1" y="143.92">TC</text>
<text x="79.3" y="143.92">G</text>
<text x="87" y="143.92">A</text>
<text x="100.05" y="143.92">TC</text>
<text x="111.5" y="143.92">C</text>
<text x="122.65" y="143.92" textLength="14.5" lengthAdjust="spacingAndGlyphs">CTTT</text>
<text x="133.72" y="143.92">G</text>
<text x="139.55" y="143.92">C</text>
<text x="145.38" y="143.92">G</text>
<text x="151.22" y="143.92">A</text>
<text x="157.05" y="143.92">G</text>
<text x="162.88" y="143.92">T</text>
<text x="168.72" y="143.92">T</text>
<text x="174.55" y="143.92">G</text>
<text x="180.38" y="143.92">C</text>
<text x="186.22" y="143.92">A</text>
<text x="192.05" y="143.92">C</text>
<text x="197.88" y="143.92">G</text>
<text x="207.15" y="143.92" textLength="10.9" lengthAdjust="spacingAndGlyphs">GAA</text>
<text x="216.5" y="143.92">G</text>
<text x="222.55" y="143.92">T</text>
<text x="228.1" y="143.92">A</text>
<text x="233.55" y="143.92">G</text>
<text x="250.5" y="143.92">C</text>
<text x="270" y="143.92">C</text>
<text x="278.55" y="143.92">C</text>
<text x="284.55" y="143.92">A</text>
<text x="293.9" y="143.92">C</text>
<text x="306.75" y="143.92" textLength="11.1" lengthAdjust="spacingAndGlyphs">In 13</text>
<text x="319.3" y="143.92" textLength="10.4" lengthAdjust="spacingAndGlyphs">In 5</text>
<text x="328.05" y="143.92">A</text>
<text x="333.62" y="143.92">T</text>
<text x="339.44" y="143.92">G</text>
<text x="345.27" y="143.92">A</text>
<text x="351.11" y="143.92">C</text>
<text x="356.93" y="143.92">G</text>
<text x="362.76" y="143.92">A</text>
<text x="368.6" y="143.92">A</text>
<text x="374.42" y="143.92">G</text>
<text x="380.25" y="143.92">C</text>
<text x="386.08" y="143.92">A</text>
<text x="391.91" y="143.92">C</text>
<text x="397.75" y="143.92">T</text>
<text x="403.57" y="143.92">C</text>
<text x="409.14" y="143.92">-</text>
<text x="416.55" y="143.92">T</text>
<text x="424.19" y="143.92">-</text>
<text x="429.98" y="143.92">A</text>
<text x="435.77" y="143.92">C</text>
<text x="441.55" y="143.92">A</text>
<text x="447.34" y="143.92">T</text>
<text x="453.13" y="143.92">A</text>
<text x="458.91" y="143.92">A</text>
<text x="464.7" y="143.92">C</text>
<text x="470.49" y="143.92">A</text>
<text x="476.27" y="143.92">G</text>
<text x="482.06" y="143.92">T</text>
<text x="487.85" y="143.92">A</text>
<text x="493.63" y="143.92">A</text>
<text x="499.42" y="143.92">T</text>
<text x="505.21" y="143.92">T</text>
<text x="512.7" y="143.92">A</text>
<text x="525.4" y="143.92">C</text>
<text x="536.55" y="143.92">C</text>
<text x="542.55" y="143.92">T</text>
<text x="548.25" y="143.92">C</text>
<text x="570.65" y="143.92" font-weight="bold" textLength="37.5" lengthAdjust="spacingAndGlyphs">TTCCCCCCC</text>
<text x="605.75" y="143.92" textLength="29.1" lengthAdjust="spacingAndGlyphs">CACCGCG</text>
<text x="623.9" y="143.92">C</text>
<text x="632.2" y="143.92" textLength="9.4" lengthAdjust="spacingAndGlyphs">In 4</text>
<text x="58.55" y="151.64" textLength="9.5" lengthAdjust="spacingAndGlyphs">In 6</text>
<text x="70.1" y="151.64">C</text>
<text x="79.3" y="151.64">G</text>
<text x="87" y="151.64" textLength="7.4" lengthAdjust="spacingAndGlyphs">TA</text>
<text x="100.05" y="151.64">TC</text>
<text x="111.5" y="151.64">C</text>
<text x="122.65" y="151.64" textLength="14.5" lengthAdjust="spacingAndGlyphs">CTTT</text>
<text x="133.72" y="151.64">G</text>
<text x="139.55" y="151.64">C</text>
<text x="145.38" y="151.64">G</text>
<text x="151.22" y="151.64">A</text>
<text x="157.05" y="151.64">G</text>
<text x="162.88" y="151.64">C</text>
<text x="168.72" y="151.64">T</text>
<text x="174.55" y="151.64">A</text>
<text x="180.38" y="151.64">C</text>
<text x="186.22" y="151.64">A</text>
<text x="192.05" y="151.64">C</text>
<text x="197.88" y="151.64">G</text>
<text x="207.15" y="151.64">A</text>
<text x="216.5" y="151.64">G</text>
<text x="222.55" y="151.64">T</text>
<text x="228.1" y="151.64">A</text>
<text x="233.55" y="151.64">G</text>
<text x="250.5" y="151.64">C</text>
<text x="270" y="151.64">C</text>
<text x="278.55" y="151.64">C</text>
<text x="284.55" y="151.64">A</text>
<text x="293.9" y="151.64" textLength="11" lengthAdjust="spacingAndGlyphs">TTC</text>
<text x="306.75" y="151.64" textLength="11.1" lengthAdjust="spacingAndGlyphs">In 13</text>
<text x="319.3" y="151.64" textLength="10.4" lengthAdjust="spacingAndGlyphs">In 5</text>
<text x="328.05" y="151.64">A</text>
<text x="333.62" y="151.64">T</text>
<text x="339.44" y="151.64">G</text>
<text x="345.27" y="151.64">A</text>
<text x="351.11" y="151.64">C</text>
<text x="356.93" y="151.64">G</text>
<text x="362.76" y="151.64">A</text>
<text x="368.6" y="151.64">A</text>
<text x="374.42" y="151.64">G</text>
<text x="380.25" y="151.64">C</text>
<text x="386.08" y="151.64">A</text>
<text x="391.91" y="151.64">T</text>
<text x="397.75" y="151.64">T</text>
<text x="403.57" y="151.64">C</text>
<text x="409.14" y="151.64">-</text>
<text x="416.55" y="151.64">T</text>
<text x="424.19" y="151.64">-</text>
<text x="429.98" y="151.64">A</text>
<text x="435.77" y="151.64">C</text>
<text x="441.55" y="151.64">A</text>
<text x="447.34" y="151.64">T</text>
<text x="453.13" y="151.64">A</text>
<text x="458.91" y="151.64">A</text>
<text x="464.7" y="151.64">C</text>
<text x="470.49" y="151.64">A</text>
<text x="476.27" y="151.64">G</text>
<text x="482.06" y="151.64">T</text>
<text x="487.85" y="151.64">A</text>
<text x="493.63" y="151.64">A</text>
<text x="499.42" y="151.64">T</text>
<text x="505.21" y="151.64">T</text>
<text x="512.7" y="151.64">A</text>
<text x="525.4" y="151.64">C</text>
<text x="536.55" y="151.64">C</text>
<text x="542.55" y="151.64">T</text>
<text x="548.25" y="151.64">C</text>
<text x="570.65" y="151.64" font-weight="bold" textLength="37.5" lengthAdjust="spacingAndGlyphs">TTCCCCCCC</text>
<text x="605.75" y="151.64" textLength="29.1" lengthAdjust="spacingAndGlyphs">CACCGCG</text>
<text x="623.9" y="151.64">C</text>
<text x="632.2" y="151.64" textLength="9.4" lengthAdjust="spacingAndGlyphs">In 4</text>
<text x="58.55" y="159.36" textLength="9.5" lengthAdjust="spacingAndGlyphs">In 6</text>
<text x="70.1" y="159.36">C</text>
<text x="79.3" y="159.36">G</text>
<text x="87" y="159.36" textLength="7.4" lengthAdjust="spacingAndGlyphs">TA</text>
<text x="100.05" y="159.36">TC</text>
<text x="111.5" y="159.36">C</text>
<text x="122.65" y="159.36" textLength="14.5" lengthAdjust="spacingAndGlyphs">CTTT</text>
<text x="133.72" y="159.36">G</text>
<text x="139.55" y="159.36">C</text>
<text x="145.38" y="159.36">G</text>
<text x="151.22" y="159.36">A</text>
<text x="157.05" y="159.36">G</text>
<text x="162.88" y="159.36">C</text>
<text x="168.72" y="159.36">T</text>
<text x="174.55" y="159.36">A</text>
<text x="180.38" y="159.36">C</text>
<text x="186.22" y="159.36">A</text>
<text x="192.05" y="159.36">C</text>
<text x="197.88" y="159.36">G</text>
<text x="207.15" y="159.36">A</text>
<text x="216.5" y="159.36">A</text>
<text x="222.55" y="159.36">T</text>
<text x="228.1" y="159.36">A</text>
<text x="233.55" y="159.36">G</text>
<text x="250.5" y="159.36">C</text>
<text x="270" y="159.36">C</text>
<text x="278.55" y="159.36">C</text>
<text x="284.55" y="159.36">A</text>
<text x="293.9" y="159.36" textLength="11" lengthAdjust="spacingAndGlyphs">TTC</text>
<text x="306.75" y="159.36" textLength="11.1" lengthAdjust="spacingAndGlyphs">In 15</text>
<text x="319.3" y="159.36" textLength="10.4" lengthAdjust="spacingAndGlyphs">In 5</text>
<text x="328.05" y="159.36">A</text>
<text x="333.62" y="159.36">T</text>
<text x="339.44" y="159.36">G</text>
<text x="345.27" y="159.36">A</text>
<text x="351.11" y="159.36">C</text>
<text x="356.93" y="159.36">G</text>
<text x="362.76" y="159.36">A</text>
<text x="368.6" y="159.36">A</text>
<text x="374.42" y="159.36">G</text>
<text x="380.25" y="159.36">C</text>
<text x="386.08" y="159.36">A</text>
<text x="391.91" y="159.36">C</text>
<text x="397.75" y="159.36">T</text>
<text x="403.57" y="159.36">C</text>
<text x="409.14" y="159.36">-</text>
<text x="416.55" y="159.36">T</text>
<text x="424.19" y="159.36">-</text>
<text x="429.98" y="159.36">A</text>
<text x="435.77" y="159.36">C</text>
<text x="441.55" y="159.36">A</text>
<text x="447.34" y="159.36">T</text>
<text x="453.13" y="159.36">A</text>
<text x="458.91" y="159.36">A</text>
<text x="464.7" y="159.36">C</text>
<text x="470.49" y="159.36">A</text>
<text x="476.27" y="159.36">G</text>
<text x="482.06" y="159.36">T</text>
<text x="487.85" y="159.36">A</text>
<text x="493.63" y="159.36">A</text>
<text x="499.42" y="159.36">T</text>
<text x="505.21" y="159.36">T</text>
<text x="512.7" y="159.36">A</text>
<text x="525.4" y="159.36">C</text>
<text x="536.55" y="159.36">C</text>
<text x="542.55" y="159.36">T</text>
<text x="548.25" y="159.36">C</text>
<text x="570.65" y="159.36" font-weight="bold" textLength="37.5" lengthAdjust="spacingAndGlyphs">TTCCCCCCC</text>
<text x="605.75" y="159.36" textLength="29.1" lengthAdjust="spacingAndGlyphs">CACCGCG</text>
<text x="623.9" y="159.36">C</text>
<text x="632.2" y="159.36" textLength="9.4" lengthAdjust="spacingAndGlyphs">In 4</text>
<text x="58.55" y="167.08" textLength="9.5" lengthAdjust="spacingAndGlyphs">In 6</text>
<text x="70.1" y="167.08">TC</text>
<text x="79.3" y="167.08">G</text>
<text x="87" y="167.08">A</text>
<text x="100.05" y="167.08">TC</text>
<text x="111.5" y="167.08">C</text>
<text x="122.65" y="167.08" textLength="14.5" lengthAdjust="spacingAndGlyphs">CTTT</text>
<text x="133.72" y="167.08">G</text>
<text x="139.55" y="167.08">C</text>
<text x="145.38" y="167.08">G</text>
<text x="151.22" y="167.08">A</text>
<text x="157.05" y="167.08">G</text>
<text x="162.88" y="167.08">T</text>
<text x="168.72" y="167.08">T</text>
<text x="174.55" y="167.08">G</text>
<text x="180.38" y="167.08">C</text>
<text x="186.22" y="167.08">A</text>
<text x="192.05" y="167.08">C</text>
<text x="197.88" y="167.08">G</text>
<text x="207.15" y="167.08">-</text>
<text x="216.5" y="167.08">G</text>
<text x="222.55" y="167.08">T</text>
<text x="228.1" y="167.08">A</text>
<text x="233.55" y="167.08">G</text>
<text x="250.5" y="167.08">C</text>
<text x="270" y="167.08">C</text>
<text x="278.55" y="167.08">C</text>
<text x="284.55" y="167.08">A</text>
<text x="293.9" y="167.08">C</text>
<text x="306.75" y="167.08" textLength="11.1" lengthAdjust="spacingAndGlyphs">In 13</text>
<text x="319.3" y="167.08" textLength="10.4" lengthAdjust="spacingAndGlyphs">In 5</text>
<text x="328.05" y="167.08">A</text>
<text x="333.62" y="167.08">T</text>
<text x="339.44" y="167.08">G</text>
<text x="345.27" y="167.08">A</text>
<text x="351.11" y="167.08">C</text>
<text x="356.93" y="167.08">G</text>
<text x="362.76" y="167.08">A</text>
<text x="368.6" y="167.08">A</text>
<text x="374.42" y="167.08">G</text>
<text x="380.25" y="167.08">C</text>
<text x="386.08" y="167.08">A</text>
<text x="391.91" y="167.08">C</text>
<text x="397.75" y="167.08">T</text>
<text x="403.57" y="167.08">C</text>
<text x="409.14" y="167.08">-</text>
<text x="416.55" y="167.08">T</text>
<text x="424.19" y="167.08">-</text>
<text x="429.98" y="167.08">A</text>
<text x="435.77" y="167.08">C</text>
<text x="441.55" y="167.08">A</text>
<text x="447.34" y="167.08">T</text>
<text x="453.13" y="167.08">A</text>
<text x="458.91" y="167.08">A</text>
<text x="464.7" y="167.08">C</text>
<text x="470.49" y="167.08">A</text>
<text x="476.27" y="167.08">G</text>
<text x="482.06" y="167.08">T</text>
<text x="487.85" y="167.08">A</text>
<text x="493.63" y="167.08">A</text>
<text x="499.42" y="167.08">T</text>
<text x="505.21" y="167.08">T</text>
<text x="512.7" y="167.08">A</text>
<text x="525.4" y="167.08">C</text>
<text x="536.55" y="167.08">C</text>
<text x="542.55" y="167.08">T</text>
<text x="548.25" y="167.08">C</text>
<text x="570.65" y="167.08" font-weight="bold" textLength="37.5" lengthAdjust="spacingAndGlyphs">TTCCCCCCC</text>
<text x="605.75" y="167.08" textLength="29.1" lengthAdjust="spacingAndGlyphs">CACCGCG</text>
<text x="623.9" y="167.08">C</text>
<text x="632.2" y="167.08" textLength="9.4" lengthAdjust="spacingAndGlyphs">In 4</text>
<text x="58.55" y="182.4" textLength="9.5" lengthAdjust="spacingAndGlyphs">In 6</text>
<text x="70.1" y="182.4">TC</text>
<text x="79.3" y="182.4">A</text>
<text x="87" y="182.4">A</text>
<text x="100.05" y="182.4">TC</text>
<text x="111.5" y="182.4">C</text>
<text x="122.65" y="182.4" textLength="14.5" lengthAdjust="spacingAndGlyphs">CTTT</text>
<text x="133.72" y="182.4">A</text>
<text x="139.55" y="182.4">A</text>
<text x="145.38" y="182.4">G</text>
<text x="151.22" y="182.4">G</text>
<text x="157.05" y="182.4">G</text>
<text x="162.88" y="182.4">C</text>
<text x="168.72" y="182.4">A</text>
<text x="174.55" y="182.4">G</text>
<text x="180.38" y="182.4">C</text>
<text x="186.22" y="182.4">G</text>
<text x="192.05" y="182.4">A</text>
<text x="197.88" y="182.4">A</text>
<text x="207.15" y="182.4" textLength="10.9" lengthAdjust="spacingAndGlyphs">GAA</text>
<text x="216.5" y="182.4">A</text>
<text x="222.55" y="182.4">C</text>
<text x="228.1" y="182.4">G</text>
<text x="233.55" y="182.4">T</text>
<text x="250.5" y="182.4" textLength="26.2" lengthAdjust="spacingAndGlyphs">In 16&amp;C-T</text>
<text x="270" y="182.4" textLength="9.2" lengthAdjust="spacingAndGlyphs">In 6</text>
<text x="278.55" y="182.4">A</text>
<text x="284.55" y="182.4">T</text>
<text x="293.9" y="182.4">C</text>
<text x="306.75" y="182.4">In 3</text>
<text x="319.3" y="182.4">-</text>
<text x="328.05" y="182.4">C</text>
<text x="333.62" y="182.4">C</text>
<text x="339.44" y="182.4">A</text>
<text x="345.27" y="182.4">G</text>
<text x="351.11" y="182.4">T</text>
<text x="356.93" y="182.4">G</text>
<text x="362.76" y="182.4">G</text>
<text x="368.6" y="182.4">G</text>
<text x="374.42" y="182.4">C</text>
<text x="380.25" y="182.4">T</text>
<text x="386.08" y="182.4">C</text>
<text x="391.91" y="182.4">C</text>
<text x="397.75" y="182.4">C</text>
<text x="403.57" y="182.4">C</text>
<text x="409.14" y="182.4">T</text>
<text x="416.55" y="182.4" textLength="7.7" lengthAdjust="spacingAndGlyphs">AT</text>
<text x="424.19" y="182.4">C</text>
<text x="429.98" y="182.4">A</text>
<text x="435.77" y="182.4">T</text>
<text x="441.55" y="182.4">G</text>
<text x="447.34" y="182.4">C</text>
<text x="453.13" y="182.4">G</text>
<text x="458.91" y="182.4">A</text>
<text x="464.7" y="182.4">A</text>
<text x="470.49" y="182.4">G</text>
<text x="476.27" y="182.4">A</text>
<text x="482.06" y="182.4">A</text>
<text x="487.85" y="182.4">T</text>
<text x="493.63" y="182.4">G</text>
<text x="499.42" y="182.4">C</text>
<text x="505.21" y="182.4">G</text>
<text x="512.7" y="182.4">A</text>
<text x="525.4" y="182.4">TTC</text>
<text x="536.55" y="182.4">A</text>
<text x="542.55" y="182.4">T</text>
<text x="548.25" y="182.4">C</text>
<text x="570.65" y="182.4" font-weight="bold" textLength="37.5" lengthAdjust="spacingAndGlyphs">CCCCC - - - A</text>
<text x="605.75" y="182.4">G</text>
<text x="623.9" y="182.4">T</text>
<text x="632.2" y="182.4">T</text>
<text x="58.55" y="190.12" textLength="9.5" lengthAdjust="spacingAndGlyphs">In 6</text>
<text x="70.1" y="190.12">TC</text>
<text x="79.3" y="190.12">A</text>
<text x="87" y="190.12">A</text>
<text x="100.05" y="190.12">TC</text>
<text x="111.5" y="190.12">C</text>
<text x="122.65" y="190.12" textLength="14.5" lengthAdjust="spacingAndGlyphs">CTTT</text>
<text x="133.72" y="190.12">A</text>
<text x="139.55" y="190.12">A</text>
<text x="145.38" y="190.12">G</text>
<text x="151.22" y="190.12">G</text>
<text x="157.05" y="190.12">G</text>
<text x="162.88" y="190.12">C</text>
<text x="168.72" y="190.12">A</text>
<text x="174.55" y="190.12">G</text>
<text x="180.38" y="190.12">C</text>
<text x="186.22" y="190.12">G</text>
<text x="192.05" y="190.12">A</text>
<text x="197.88" y="190.12">A</text>
<text x="207.15" y="190.12" textLength="10.9" lengthAdjust="spacingAndGlyphs">GAA</text>
<text x="216.5" y="190.12">A</text>
<text x="222.55" y="190.12">C</text>
<text x="228.1" y="190.12">G</text>
<text x="233.55" y="190.12">T</text>
<text x="250.5" y="190.12" textLength="26.2" lengthAdjust="spacingAndGlyphs">In 16&amp;C-T</text>
<text x="270" y="190.12" textLength="9.2" lengthAdjust="spacingAndGlyphs">In 6</text>
<text x="278.55" y="190.12">A</text>
<text x="284.55" y="190.12">T</text>
<text x="293.9" y="190.12">C</text>
<text x="306.75" y="190.12">In 3</text>
<text x="319.3" y="190.12">G</text>
<text x="328.05" y="190.12">C</text>
<text x="333.62" y="190.12">C</text>
<text x="339.44" y="190.12">A</text>
<text x="345.27" y="190.12">G</text>
<text x="351.11" y="190.12">T</text>
<text x="356.93" y="190.12">G</text>
<text x="362.76" y="190.12">G</text>
<text x="368.6" y="190.12">G</text>
<text x="374.42" y="190.12">C</text>
<text x="380.25" y="190.12">T</text>
<text x="386.08" y="190.12">C</text>
<text x="391.91" y="190.12">C</text>
<text x="397.75" y="190.12">C</text>
<text x="403.57" y="190.12">C</text>
<text x="409.14" y="190.12">T</text>
<text x="416.55" y="190.12" textLength="7.7" lengthAdjust="spacingAndGlyphs">AT</text>
<text x="424.19" y="190.12">C</text>
<text x="429.98" y="190.12">A</text>
<text x="435.77" y="190.12">T</text>
<text x="441.55" y="190.12">G</text>
<text x="447.34" y="190.12">C</text>
<text x="453.13" y="190.12">G</text>
<text x="458.91" y="190.12">A</text>
<text x="464.7" y="190.12">A</text>
<text x="470.49" y="190.12">G</text>
<text x="476.27" y="190.12">A</text>
<text x="482.06" y="190.12">A</text>
<text x="487.85" y="190.12">T</text>
<text x="493.63" y="190.12">G</text>
<text x="499.42" y="190.12">C</text>
<text x="505.21" y="190.12">G</text>
<text x="512.7" y="190.12">A</text>
<text x="525.4" y="190.12">TTC</text>
<text x="536.55" y="190.12">A</text>
<text x="542.55" y="190.12">T</text>
<text x="548.25" y="190.12">C</text>
<text x="570.65" y="190.12" font-weight="bold" textLength="37.5" lengthAdjust="spacingAndGlyphs">CCCCC - - - A</text>
<text x="605.75" y="190.12">G</text>
<text x="623.9" y="190.12">T</text>
<text x="632.2" y="190.12">T</text>
<text x="58.55" y="197.84" textLength="9.5" lengthAdjust="spacingAndGlyphs">In 6</text>
<text x="70.1" y="197.84">TC</text>
<text x="79.3" y="197.84">A</text>
<text x="87" y="197.84">A</text>
<text x="100.05" y="197.84">TC</text>
<text x="111.5" y="197.84">C</text>
<text x="122.65" y="197.84" textLength="14.5" lengthAdjust="spacingAndGlyphs">CTTT</text>
<text x="133.72" y="197.84">-</text>
<text x="139.55" y="197.84">A</text>
<text x="145.38" y="197.84">G</text>
<text x="151.22" y="197.84">G</text>
<text x="157.05" y="197.84">G</text>
<text x="162.88" y="197.84">C</text>
<text x="168.72" y="197.84">A</text>
<text x="174.55" y="197.84">G</text>
<text x="180.38" y="197.84">C</text>
<text x="186.22" y="197.84">G</text>
<text x="192.05" y="197.84">A</text>
<text x="197.88" y="197.84">A</text>
<text x="207.15" y="197.84" textLength="10.9" lengthAdjust="spacingAndGlyphs">GAA</text>
<text x="216.5" y="197.84">A</text>
<text x="222.55" y="197.84">C</text>
<text x="228.1" y="197.84">G</text>
<text x="233.55" y="197.84">T</text>
<text x="250.5" y="197.84" textLength="26.2" lengthAdjust="spacingAndGlyphs">In 16&amp;C-T</text>
<text x="270" y="197.84" textLength="9.2" lengthAdjust="spacingAndGlyphs">In 6</text>
<text x="278.55" y="197.84">A</text>
<text x="284.55" y="197.84">T</text>
<text x="293.9" y="197.84">C</text>
<text x="306.75" y="197.84">In 3</text>
<text x="319.3" y="197.84">-</text>
<text x="328.05" y="197.84">C</text>
<text x="333.62" y="197.84">C</text>
<text x="339.44" y="197.84">A</text>
<text x="345.27" y="197.84">G</text>
<text x="351.11" y="197.84">T</text>
<text x="356.93" y="197.84">G</text>
<text x="362.76" y="197.84">G</text>
<text x="368.6" y="197.84">G</text>
<text x="374.42" y="197.84">C</text>
<text x="380.25" y="197.84">T</text>
<text x="386.08" y="197.84">C</text>
<text x="391.91" y="197.84">C</text>
<text x="397.75" y="197.84">C</text>
<text x="403.57" y="197.84">C</text>
<text x="409.14" y="197.84">T</text>
<text x="416.55" y="197.84" textLength="7.7" lengthAdjust="spacingAndGlyphs">AT</text>
<text x="424.19" y="197.84">C</text>
<text x="429.98" y="197.84">A</text>
<text x="435.77" y="197.84">T</text>
<text x="441.55" y="197.84">G</text>
<text x="447.34" y="197.84">C</text>
<text x="453.13" y="197.84">G</text>
<text x="458.91" y="197.84">A</text>
<text x="464.7" y="197.84">A</text>
<text x="470.49" y="197.84">G</text>
<text x="476.27" y="197.84">A</text>
<text x="482.06" y="197.84">A</text>
<text x="487.85" y="197.84">T</text>
<text x="493.63" y="197.84">G</text>
<text x="499.42" y="197.84">C</text>
<text x="505.21" y="197.84">G</text>
<text x="512.7" y="197.84">A</text>
<text x="525.4" y="197.84">TTC</text>
<text x="536.55" y="197.84">A</text>
<text x="542.55" y="197.84">T</text>
<text x="548.25" y="197.84">C</text>
<text x="570.65" y="197.84" font-weight="bold" textLength="37.5" lengthAdjust="spacingAndGlyphs">CCCCC - - - A</text>
<text x="605.75" y="197.84">G</text>
<text x="623.9" y="197.84">T</text>
<text x="632.2" y="197.84">T</text>
</g>
<text x="639.2" y="97.9" font-size="5.9" font-weight="bold" fill="#111">NPB (Reference)</text>
<path d="M571.2,200.7L572.26,203.44L575.19,203.6L572.91,205.46L573.67,208.3L571.2,206.7L568.73,208.3L569.49,205.46L567.21,203.6L570.14,203.44Z" fill="#e8191c"/>
<text x="-1.2" y="220.5" font-size="15" letter-spacing="0.9" fill="#000">(b)</text>
<defs><clipPath id="pc"><rect x="48.5" y="224.0" width="538.0" height="224.5"/></clipPath></defs>
<path fill="none" stroke="#f3f3f3" stroke-width="0.6" d="M113.5,224.0V448.5M249.5,224.0V448.5M385.5,224.0V448.5M521.5,224.0V448.5M48.5,390.5H586.5M48.5,322.5H586.5M48.5,254.5H586.5"/>
<path fill="none" stroke="#e6e6e6" stroke-width="1" d="M181.5,224.0V448.5M317.5,224.0V448.5M453.5,224.0V448.5M48.5,424.5H586.5M48.5,356.5H586.5M48.5,288.5H586.5"/>
<g clip-path="url(#pc)">
<path fill="#f0f0f0" stroke="#7c7c7c" stroke-width="0.45" stroke-linejoin="round" d="M89,267.3L91.7,263.6L95.8,261.3L104.3,259.5L110.8,260.2L120.3,261.3L125.7,261.8L132.5,262.8L136.6,262L142.1,261.3L147.5,262L154.3,262.7L161.1,263.1L167.9,264L174.7,263.3L181.5,264.3L185.6,264L189.7,262.3L192.4,263.3L195.1,262.9L199.2,264L201.9,262L206,262.7L206.7,265.4L200.5,266.1L198.5,268.8L194.4,270.1L189.7,273.5L189,276.3L191.7,279L197.8,280.3L201.9,281.3L205.6,281.7L206,284.4L208,286.5L210.1,286.5L209.4,283.1L212.8,280.3L213.5,277.6L211.4,274.9L212.1,271.8L216.9,271.8L220.3,273.3L223,273.5L225.7,276.9L229.8,274.5L233.2,278.3L235.2,281L240,283.7L241.7,285.5L239.3,286.6L235.9,288.2L227.1,288.2L224.1,289.6L229.8,290L230.2,290.5L229.1,291.5L229.8,293.5L234.5,294.6L235.9,294.1L233.9,295.3L231.1,296L228,297.2L227.1,295.3L225.7,296L222.3,297.1L221.5,298.6L222.3,299.8L220.3,300.2L216.9,301.4L216.9,302.8L214.8,303.7L214.1,305.8L214.8,308.6L212.8,309.6L210.1,311.2L207.3,313.3L206.9,315.7L208,317.7L208.7,320.5L208,322.2L206.3,321.1L205,318.7L204.9,317.1L203.3,315.7L200.5,315.2L197.8,315L195.8,315.7L196.2,316.9L193.7,316.4L190.3,316.1L188.3,317.1L185.6,318.7L185.2,321.1L184.9,323.9L184.6,326.6L185.3,328.6L186.7,330.7L189,331.7L191.7,331.2L193.7,330.7L194.4,328.6L194.7,327.9L197.8,327.3L199.5,327.5L198.5,330L197.4,331.3L197.5,334.1L196.5,335L200.5,334.9L203.3,335L204.3,336.1L203.9,339.5L203.7,341.5L205.3,343.6L207.3,344.4L209.4,343.6L212.2,344.8L211.6,346.7L208.7,346.6L208,345.6L206,345.3L203.9,344.9L200.9,342.9L200.9,341.3L198.5,339L196.5,338.1L193.1,337.5L191,335.4L189,334.5L186.3,335.1L183.5,334.3L180.1,333L176.7,331.6L174,329.3L174.3,327.3L173.3,325.2L170.6,322.5L168.6,320.5L166.5,318.4L164.1,315.7L161.5,313.4L162.5,315.7L164.5,318.4L166.5,321.8L167.9,323.9L168.6,325.2L167.2,324.5L165.2,322.8L164.9,320.5L162.5,318.4L161.8,316.4L159.7,315L158.2,312.3L156.3,310.3L153.5,309.4L151.7,306.7L150.9,305.1L149.1,302.8L148.3,301.4L148.7,299.4L148.2,298L148.9,293.9L147.9,290.7L150.2,290.9L150.5,289.9L148.9,288.8L147.5,287.8L144.1,287.1L143.4,285.1L140.7,283.1L140,281.7L138,279.7L135.3,277.6L131.9,276.9L128.5,275.6L125.1,274.9L121.7,274.8L118.3,273.5L115.5,274.5L113.5,273.3L111.5,274.2L111.1,276L108.7,276.3L108.1,277.3L105.3,278.3L101.9,280.3L97.9,281L95.1,282L98.5,280.3L101.3,278.7L103.3,276.9L99.9,276.7L97.2,275.2L94.5,274.5L92.8,273.5L92.4,271.5L93.8,270.5L97.9,269.5L95.1,268.6L91.3,268.6ZM176.1,250.4L180.1,249.3L182.2,250L178.8,250.7ZM184.9,250.1L186.9,249.5L188.6,250.1L186.3,250.6ZM186.1,254.2L190.6,254L191.2,254.8L187.6,255ZM207.3,256.8L211.4,256.1L213.5,256.9L210.7,257.8ZM203.9,271.1L206.7,271.2L206,271.9ZM208.7,256.3L212.8,257.8L216.9,259.3L221.6,260.6L225,262L225.7,263.3L230.5,265.4L233.5,266.1L231.1,268.4L228.8,268.8L229.6,270.8L227.7,272.2L224.3,271.5L220.3,270.1L216.9,268.8L211.7,269.2L211.4,267.4L216.9,266.3L217.5,264.3L212.8,263.7L210.7,261.6L206.7,262L201.9,261.3L196.5,259.5L197.8,256.5L201.2,256.9ZM195.8,252.3L200.5,252.7L207.3,252.9L210.3,252.6L211.8,251.2L213.5,250L216.6,249.3L218.9,248.8L221.6,248L225.7,247.3L229.1,246.6L232.5,245.7L233.5,244.6L230.5,243.9L222.3,243.6L213.5,243.6L204.6,244L197.8,244.7L193.1,245.9L194.4,246.9L198.5,247.4L201.2,248.5L198.4,249.7L201.5,250.7L196.1,251.5ZM191.7,250.1L195.8,249.5L198.9,248.7L197.8,247.4L193.7,246.6L189.7,245.9L186.3,247L187.6,248.2L185.6,249.1ZM208.6,254.8L203,255.2L197.1,255.3L192.7,254.9L192,253.7L194.4,252.6L198.5,252.3L203,252.6L207.1,253L209,253.8ZM156.7,260.5L155.4,259.4L157.2,257.6L161.6,256.7L165.9,257.4L171.3,256.4L174,257.2L175.2,259.7L178.4,261.2L180.1,262.1L177.4,262.8L172.7,262.5L169.3,263.1L163.1,262.5L160,262.1L157.6,261.4ZM147.2,258.7L147.8,256.9L149.5,255.5L152.9,255L157.6,255.6L160.7,256.5L158.1,257.4L155.4,259L151.9,259.7L149.1,259.8ZM158.4,253.5L160.4,252.6L165.2,252.3L168.6,252.1L172.9,252.9L174,253.7L171.3,254.5L167.2,254.8L162.7,255L159.5,254.5ZM177.8,257.5L178.8,256.1L182.2,256.1L185.6,256.9L186.3,258L183.5,259.3L180.8,259.1ZM185.6,256.5L186.9,255.6L191,255.6L194.4,256L191.7,257.9L189,258.6ZM175.8,252.7L179.5,252.1L183.9,252.7L184.9,254L180.7,254.4L177.4,254ZM150.5,252.9L153.6,251.4L158.4,251.2L159.5,252.1L155,253.3ZM199.2,269.5L199.9,267.4L203.3,267.1L206,268.8L208,269.9L203.3,270.8L199.2,270.1ZM181.5,262.8L183.5,261.8L186.5,261.7L187.6,262.9L185.6,263.6ZM218.2,249.7L225,247.4L233.2,245.4L249.5,244.3L263.1,242.9L276.7,242.9L290.3,245L301.2,245.7L293,248.4L291.7,251.8L288.9,255.2L287.6,257.9L287.6,260.6L283.5,262L276.7,263.7L271.3,266.1L265.8,267.1L262.4,268.8L259.7,272.9L257.7,274.9L254.9,273.8L251.5,272.9L248.8,270.8L247.5,268.8L245.4,266.5L244.7,264.4L248.1,262.7L244.1,260.6L246.8,259.3L242.7,257.9L240,255.2L234.5,253.1L225,252.7L220.3,251.4ZM284.9,267.4L287.6,266.2L293,266.5L297.8,266.3L299.1,268.1L297.1,269.1L292.3,270.3L287.6,269.7ZM236.9,291.8L241.3,291.8L245.4,293.1L246,291.8L244.7,289.5L242,288.5L242,286.3L239.7,287.4L237.9,289.9ZM201.9,326.7L204.6,325.4L207.3,325.1L210.1,326L212.4,327.1L214.5,327.8L216.6,328.9L214.8,329.4L212,329.4L212.1,328.3L210.1,327.1L206.9,326.7L204.9,327L202.6,327.3ZM216.2,331.5L218.5,329.4L222.3,329.6L224.6,331.2L220.9,332.6L218.9,331.9ZM211,331.6L213.9,331.7L213.1,332.2ZM226.1,331.3L228.3,331.5L228.1,332L226.1,332ZM143,287.4L146.8,288.1L149.7,290.7L147.8,290.3L144.8,288.8ZM136.6,282.9L138.4,283.6L139.1,285.5L137.3,284.7ZM212.2,344.8L214.1,343.6L214.8,342.2L216.6,341.3L219.6,339.6L220.3,341.1L219.7,341.7L222,340.7L224.3,342.1L227.7,342.1L230.5,341.9L233.2,342.1L234.5,342.9L235.2,344.9L237.3,345.6L238.6,347L240,348.3L242.7,348.5L245.4,349L247.5,350.7L249.5,353.8L249.5,355.8L251.5,357.2L254.9,357.9L257,359.9L260.4,360.3L263.8,360.6L266.8,363L269.5,363.7L270,366.7L269.8,368.7L267.9,370.8L265.8,373.9L264.5,375.5L264.5,380.3L263.5,383L262.3,385.7L260.4,387.8L257,388.2L253.6,389.7L251.5,391.9L251.4,394.9L249.5,397.3L247.5,399.3L245.4,401.7L243.4,403.7L240.7,403.8L238.2,402.7L239.3,405.7L240,407.5L237.9,408.9L233.2,409.5L232.8,411.6L229.1,412.3L229.8,414.2L228.7,417L225.7,419.1L227.7,421.1L225,424.5L223.7,426.5L224.5,427.9L220.9,429.7L223.7,430.6L227.1,431.3L224.3,432L220.3,430.6L217.5,428.6L215.5,426.5L214.8,422.5L216.9,419.7L215.5,416.3L217.5,414.3L217.5,410.9L217.5,407.5L218.9,404.8L220.3,401.4L220.3,397.3L220.5,393.2L221.6,389.1L222,383.7L221.9,381.4L220.3,379.9L215.5,377.6L213.7,374.9L212.1,372.8L210.3,369.4L208.7,366.7L207.1,364.7L207.1,362.6L208.3,361.1L207.6,359.5L208.7,357.9L208.7,355.8L210.1,354.5L210.3,353.1L212.1,351.1L212.4,348.3L211.6,346.7ZM234.1,426.3L238.6,426.3L237.9,427.5L235.2,427.2ZM309.5,307.8L314.8,308.8L318.9,306.9L321.6,306.5L325.7,306.2L330.4,305.8L332.5,306.2L331.8,308.2L332.5,310.3L331.4,310.7L333.1,311.5L335.9,311.9L338.3,312.6L341.3,314.3L343.3,315.3L344.7,314.3L344.7,312.7L346.7,311.9L348.8,312.2L351.5,313.1L354.2,313.8L356.9,314.5L359.7,313.7L361.4,313.9L364,313.9L365,316.4L364.1,318.4L363.2,318.7L361.8,315.8L362.4,317.7L363.5,319.8L365.1,323.2L366.1,325.2L367.7,326.6L368.2,330.7L369.9,332.3L370.9,335L372.6,336.4L374.6,338.1L376.4,339.5L376.3,340.9L378,342.4L381.4,341.4L384.1,341.1L387.1,340.5L386.9,342.2L386.2,344.3L384.1,347.7L382.1,350.4L379.4,353.8L376.7,355.8L374.6,357.9L373.3,359.2L371.9,361.3L370.9,363.3L370.3,365.3L371.2,367.4L371.2,370.1L372.6,371.5L372.7,375.5L371.9,378.3L367.8,380.7L365.8,383.7L365.5,386.4L365.8,389.1L362.2,391.7L361.7,395.3L359.7,397.3L358.3,399.1L355.6,401.4L352.9,402.5L350.1,402.9L347.4,403L344.7,403.8L342.7,402.9L342.4,400.7L341.3,398L339.9,395.4L338.3,393.2L337.2,387.8L336.9,386.4L335.5,383.7L333.5,380.3L333.5,378.3L334.5,374.9L336.1,372.5L335.5,368.7L334.2,364.8L333.8,363.3L332.5,361.5L330.4,359.2L330.1,357.2L330.4,355.1L330.8,352.4L329.7,351.1L329.1,350.4L327,350.5L325,350.4L323.6,347.9L320.9,347.9L318.9,348.3L316.1,349.7L314.8,350.1L312.1,349.4L307.3,350.5L304.6,349.3L301.9,347.3L299.8,345.6L299.4,343.6L297.1,341.7L294.8,339.8L294.2,336.5L295.1,334.7L295.5,330.7L294.4,328.1L295.7,324.1L297.2,322.5L299.1,319.8L301.9,318.1L303.9,317.1L304.2,315L304.9,312.3L308,310.5ZM384.5,372.8L386,377.6L384.8,379.6L383.5,383.7L382.1,389.1L378.7,391.2L376.9,388.5L376.4,385.7L377.9,383L377.3,379.6L380.7,377.6L382.8,374.9ZM309.9,307.5L311.4,306.6L314.8,306.5L316.8,304.8L317.8,303.7L317.1,302.8L318.6,301L321.9,299.5L321.7,297.9L323.6,297.5L326.3,297.9L327.7,296.9L329.5,296.1L331.4,296.8L332.5,298.7L334.5,300.1L336.5,300.7L338.9,302.1L339,304.5L339.9,304.1L340.9,303.1L340.1,302L342.7,301.8L342,300.7L339.3,299.7L336.8,298.8L336,297.2L334.2,295.8L334.4,294.6L336.1,294.3L337.9,295.7L339.3,297.3L341.3,298L343.3,299.4L344,300.7L344,301.7L345,302.8L346.1,304.4L347,306.5L348.5,306.9L348.8,305.1L350.1,304.8L348.5,302.8L348.2,301.6L350.1,301L352.9,301L353.5,302.1L354.2,304.1L354.6,306.2L356.3,306.6L359,307L361,307.3L363.7,307.1L366.3,306.3L366.5,308.2L365.8,310.5L365,312.3L364,313.9L365,316.4L365.8,318.4L367.1,321.1L369.2,323.9L370.5,326.6L371.9,329.3L373.3,332L375.3,334.1L375.7,336.4L376.4,339.2L378.7,339.1L382.8,337.5L385.5,336.1L388.5,335.1L390.9,333.7L393,332.3L395,330.9L397.1,328.6L398.8,325.9L397.5,324.5L395,323.9L394.1,321.5L394.1,320.7L393,321.8L390.9,323.6L388.2,323.9L387.5,323L387.7,321.1L386.6,322.8L385.8,321.1L384.8,319.8L383.5,317.7L382.4,315.7L383.9,315.4L385.8,315.7L386.9,317.7L390.9,320.1L394.2,319.6L395.4,321.4L398.4,322L401.3,322.2L404.5,322.1L408.1,322L409.2,323.9L410.7,324.5L413,325.5L411.3,326.2L413.4,328.2L416.5,327.3L416.4,330L417.5,334.7L418.8,337.5L420.2,340.9L421.3,343.6L422.9,345.6L423.9,344.4L425.3,342.5L426,340.5L426.6,338.1L426.4,335.4L427.9,334.2L429.4,333.4L431.7,331.6L433.8,329.7L435.8,327.9L437.9,327L439.9,326.7L441.9,325.9L442.9,327.9L444,330L445.6,332L446,334.5L447.4,335L450.4,334.1L450.5,336.4L451.5,338.8L451.7,342.2L451.2,345.2L451.1,346.3L452.8,347.7L453.9,349.7L454.9,352.4L456.9,353.8L458.3,354.7L459.2,354.6L458.3,352.7L458.1,350.4L456.9,348.3L455.1,347.1L453.9,346.2L452.8,343.6L452.4,342.2L453.2,339.5L454.2,338.1L454.9,339.4L456.9,340.2L457.6,341.5L459.6,342.2L460.3,344.3L462.3,343.6L463,342.2L465.5,341.1L466.1,338.8L465.7,335.8L464,334.1L462.3,332L461.3,330.7L462.6,328.2L464.4,327.3L466.8,327.4L467.6,328.9L468.5,327.4L471.2,326.4L472.8,326.2L475.9,325.2L477.7,323.6L478.9,322.8L480,321.1L480.4,319.1L482.1,317.7L483.3,315.8L482.1,314.6L483.3,313.7L481.8,312L481.4,310.3L479.6,308.9L481,307.5L482.1,306.5L484.1,305.9L482.1,305.4L479.6,305.9L479.1,304.8L477.3,303.9L477.6,303.2L479.3,303.1L482.1,301L483.7,301.6L482.3,303.6L483.8,302.8L486.4,302.2L487.9,302.8L487.2,304.7L488.9,305.2L489.5,306.9L489.3,309.4L490.9,309.4L493.2,308.6L493.6,306.9L493.2,305L492,304L490.9,302.5L492.3,301.4L493.9,300.9L493.9,299.1L495.3,298.8L497.4,297.6L499.1,298.3L501.8,296.9L504.5,294.6L505.9,292.6L508.3,290.5L508.6,287.8L509.8,285.5L509.7,284L507.2,282.8L504.5,283.1L503.1,282.2L501.4,282.1L503.8,280.6L505.9,279.3L508.6,277.6L510.6,276.3L514,275.7L519.5,275.9L523.3,276.5L527.2,276L528.3,274.2L531,272.9L535.1,272.5L534.8,273.8L531.7,277.2L530.1,278.7L529.1,281L529.7,284.4L530.6,287.1L533.2,284.6L535.1,282.4L537.8,280.1L539.6,277.9L538.5,276.5L540.5,275L543.3,274.4L548.7,274.9L552.1,273.5L554.1,272.5L558.9,271.5L560.9,271.8L561.6,268.8L562.3,268.1L566.4,267.4L567.7,266.7L572.5,268.9L575.9,267.4L573.2,266.1L569.1,264.7L565,263.6L562.3,262.8L555.5,261.6L548.7,261.3L544.6,261.8L537.1,262L535.1,260.2L528.3,259.7L521.5,259.3L514.7,258.2L507.9,257.9L501.1,259.3L494.3,260.2L491.6,257.9L488.9,256.5L480.7,257.2L471.9,256.5L467.1,255.9L471.2,253.1L463,251.8L458.9,250.8L453.5,252.5L448.1,253.1L439.9,253.8L435.8,255.9L435.1,257.9L427.7,258.9L427,256.5L421.5,258.6L419.5,262.7L417.5,263.3L416.1,259.9L416.8,257.5L411.3,257.2L409.3,260.2L408.6,262.7L403.2,262L399.1,262.9L395.7,263.3L389.6,263.3L386.9,264.7L380.1,264L377.3,263.3L376.7,266.1L377.3,266.7L371.9,268.8L368.5,269.5L365.1,268.8L362.4,266.1L365.1,266.5L370.5,266.6L373.3,265L372.6,264L369.2,262.8L365.1,262.3L362.4,261.8L358.3,261.3L354.2,259.9L350.1,259.9L344.7,261L340.6,262.3L337.9,263.3L336.5,264.7L334.5,266.7L332.5,268.8L329.1,270.1L325,271.8L324.3,273.5L324.6,275.6L325.3,276.8L327,277.6L329.1,277.2L331.8,276L332.9,276.9L333.8,278.3L334.9,279.9L335,281.2L336.8,281.2L339.3,280.1L340.2,278.3L340.6,276.5L342.7,275.6L341.3,274.2L340.9,272.9L342,271.1L345.4,269.7L346.7,268.4L348.1,267L350.1,267L352.2,268.1L351.9,269.3L348.8,270.4L346.5,271.6L346.7,273.5L348.1,274.6L351.5,274.4L354.2,274.1L356.9,274.6L357.6,275L356.3,275.2L353.5,275.6L350.1,275.9L349.5,276.5L350.7,277.3L350.1,278.6L348.1,278L346.7,278.6L346.1,279.9L346.3,281.4L344.4,282.2L342.7,282.1L340.6,282.1L337.2,283.1L334.5,282.7L332.5,283.1L331.1,282L330.7,281L331.5,279.7L331.8,278.2L329.1,278.8L328.5,280.3L329.3,281.8L329.7,283.1L329.1,283.6L327,283.9L324.3,284.4L323.6,285.5L322.3,286.6L320.9,287L319.5,288.2L317.8,288.9L315.9,289.3L314.9,288.9L315.5,290.3L313.4,290.1L311.1,290.7L311.7,291.5L314.1,292.2L314.5,292.9L315.9,293.9L315.9,296L315.3,297.5L312.7,297.3L309.3,297.2L306.6,297.1L304.9,298L305.4,299.5L305.5,301.4L304.6,303.7L305.5,304.1L305.5,306.2L307.3,306L308.8,306.5ZM309.7,288.4L312.7,288.1L316.1,287.4L319.4,286.9L319.8,284.8L317.9,283.9L317.2,282.7L315.5,281L314.8,280.3L313.8,279.7L315.1,278.3L312.7,278L313.4,276.8L310.7,276.8L309.7,278.3L309.7,279.7L309.3,281L310.7,282L313.1,281.8L312.7,282.8L313.4,283.7L311.2,284L311.8,285.4L310.4,286.1L312.7,286.6L311.4,287ZM309.3,285.5L309.3,283.7L310,282.4L308.7,281.3L307.3,281.3L305.9,282.4L303.9,282.8L303.9,284L304.6,285.1L303.5,286.1L304.6,286.5L306.6,286.1ZM493.9,311.2L495.5,310.3L496.9,311.2L496.3,313.7L495.1,314.2L494.6,312.8ZM495.5,309.9L497,308.6L499.1,308.2L501.8,307.9L502.5,306.9L503.8,306.2L505.9,305.5L507.2,304.1L507.9,302.4L507.9,301L508.6,300.3L509.9,300.3L509.9,302.1L510.6,302.8L509.9,304.4L509.3,306.2L508.9,307.5L509.1,308.1L507.9,308.9L506.5,309.3L505.6,309.4L503.8,309.4L503.5,309.9L501.8,310.9L501.4,309.6L499.7,309.4L498.4,309.9L497,310.4ZM497.7,311.6L499.1,311.1L500.6,310.5L500,310L498.4,310.3L497.7,311.2ZM507.9,300.1L509.3,299.7L512.4,299.4L515.4,297.6L514.7,296.7L512,296L510.2,294.8L509.9,296.7L508.6,297.7L507.9,298.7ZM510.6,293.9L512.7,293.3L512,289.9L514,289.9L512,286.5L512.4,284.4L511.3,282.7L510.9,284.4L510.3,287.1L510.6,291.2ZM480.8,325.2L481.9,326.6L482.7,324.5L483.4,322.5L482.1,322.2L481,323.9ZM465.2,330.4L466.4,331.7L467.8,330.9L468.5,329.7L467.5,329.2L465.7,329.6ZM426,345.6L426.6,343.2L427.9,344.9L428.7,346.3L427.9,348.1L426.6,348.3L426,347ZM480.7,334.7L481.5,331.3L483.7,331.3L483.8,333.4L482.7,335.4L483.4,337.5L486.1,338.8L485.2,337.6L483.4,337.9L482.1,337.9L481.4,336.8ZM483.4,347L485.5,345.6L488.2,343.3L489.5,346.3L488.9,348.1L487.8,348.7L486.1,347.7ZM476.9,345.1L480,341.3L479.6,342.6L477.4,344.8ZM486.5,339.5L488.3,339.9L488.3,341.5L487.2,342.9L486.5,341.1ZM483.4,340.5L484.8,341.5L484.1,342.2L483.3,342.1ZM484,341.8L485.5,342.1L485.1,344L484.1,343.4ZM481.1,338.1L482.7,338.4L482.3,339.9L481.4,339.4ZM465.6,354.5L466.7,353.8L469.1,353.1L471.2,352.1L472.5,350.2L474.6,349.3L476.2,347.1L477.6,348.3L479.6,349.4L478.3,350.4L477.3,352L478,353.8L479.3,355.1L477.8,355.4L477.3,357.6L475.9,358.5L475.9,359.9L475.3,361.3L473.2,361.3L471.2,360.9L469.1,360.6L467.4,360.4L467.1,358.8L466,357.2L465.7,355.8ZM447.1,348.9L450.1,349.4L451.5,351.1L453.5,353.1L455.5,353.8L458.3,355.8L459.6,358.5L461.7,360.6L461.4,364.4L459.6,364.5L456.6,361.9L454.9,359.6L453.5,357.2L451.9,354.1L450.1,353.1L448.1,351.1ZM460.6,365.7L462.3,364.7L465.1,365.2L467.8,365.7L470.5,365.9L473.2,367L473.1,368.2L469.8,367.8L467.1,367.4L464.4,367.1L462.3,366.6ZM473.4,367.7L474.9,367.9L474.2,368.5ZM475.3,367.9L476.2,367.8L475.9,368.6ZM476.3,368.1L479.3,367.8L479.1,368.6L476.6,368.7ZM480.4,368.1L484.8,367.7L484.5,368.5L480.7,368.6ZM479.3,369.4L481.8,369.7L481.4,370.5L479.3,369.8ZM485.5,370.5L487.5,369.1L490.6,367.9L487.8,369.8L486.1,370.6ZM479.9,364L480.2,361.3L479.1,360.2L479.7,357.9L480.4,355.4L481.8,354.7L484.1,355.1L487.1,354.6L487.8,354.5L486.5,356.1L483.4,355.8L482.3,356L481,356.9L482.1,358.3L484.5,357.6L485.2,357.9L483.8,358.9L482.7,359.6L484.1,360.9L484.5,363L482.7,363L481.9,360.6L481.2,360.3L481.2,364.1ZM490.9,354.1L492.5,354.5L491.6,355.8L492.5,357.2L491.2,357.3L491.4,355.4ZM491.6,360.9L495.4,361.1L494.3,361.8L491.9,361.4ZM488.9,360.7L490.5,361L489.9,361.7L488.9,361.4ZM495.7,358.3L497.7,357L499.7,357.7L501.1,361L504.5,358.5L507.9,359.8L509.3,360L514,361.7L515.8,363.7L518.1,364.9L518.8,367.4L520.8,369.4L522.6,370.5L520.1,370.5L518.1,370.1L516.1,367.4L513.3,367.1L512.7,368.7L511.3,369.1L509.3,368.9L506.5,367.5L505.2,367.9L505.9,366.7L504.5,363.3L502.5,362.6L499.7,361.7L498.4,361.9L497,360.3L499.1,359.9ZM519.2,364L521.5,364L523.5,362.2L524.6,362.3L523.9,364.1L521.9,365.1L519.5,364.7ZM522.6,360.2L525.3,361.9L525.7,362.9L523.9,361ZM530.3,365.5L533.7,367.4L536.2,369.4L536.9,370.5L534.4,369.1L531,366.7ZM471.9,386.4L472.5,392.5L473.9,396.6L474.9,399.7L473.9,402.2L475.3,404.1L478,404.1L480.7,402.7L485.5,402.6L488.9,400.3L492.9,399.5L496.1,399.3L499.7,400.7L501.8,403.8L504.5,402.1L505.6,404.1L507.2,405.2L507.9,407.8L509.9,408.7L512.7,409.3L516.5,409.7L518.8,407.9L521.5,407.5L521.5,405.5L522.9,402.7L524.9,400.7L525.7,398L526.3,394.6L525.6,390.8L522.9,388.5L522.2,387.1L520.4,385.1L519.5,384L516.5,382.3L516.1,379.6L515.1,376.9L513.3,376.2L512.7,373.5L511.3,371.1L510.1,373.5L509.9,376.9L509,380.3L506.9,380L504.5,378.3L502.5,376.9L502.3,374.9L503.5,373.1L501.1,372.8L497.7,371.9L495.7,373.1L494.3,374.2L493.6,376.6L491.6,376.9L489.5,375.5L487.5,376.9L485.5,378.9L483.7,381L482.1,383L479.1,384.1L476.6,384.7L472.8,386.4ZM514.3,411.9L519.2,412.1L518.8,415L517.3,415.8L515.4,414.3ZM552.4,403.3L554.8,405.5L556.2,406.8L560,407.6L558.2,409.9L557.3,411.6L555.5,412.9L555,412.5L555.2,410.6L553.9,409.8L555,408.2L554.8,406.5L552.8,404.5ZM552.4,411.6L554.4,412.7L553.5,414.7L552.5,416.1L550.1,417L549.4,419.1L546.7,419.9L543.9,419.1L546,416.3L549.4,414.7L551.4,412.3ZM540.5,384L541.9,384.7L544.6,386.8L543.7,386.7L540.9,384.8ZM558.6,380.3L560.3,380.3L559.9,381.3L558.8,381.1ZM543.9,376.9L544.9,377.6L544.6,378.9L544.1,378ZM332.5,249.7L332.5,248.4L336.5,248L342,247.4L347.4,247.3L354.2,247.4L347.4,249.1L344.7,250L340.6,251.8L337.9,251.4L335.9,250.1ZM388.2,259.3L392.3,260.3L395.7,260.5L393.7,257.9L396.4,255.2L401.8,253.8L410,251.9L407.3,251.8L397.7,253.1L393.7,255.2L390.3,257.2ZM446.7,249.1L453.5,248.4L458.9,249.1L453.5,250.4L449.4,249.7ZM446.7,247.7L450.8,246.3L453.5,247.3L449.4,248ZM502.5,254.5L510.6,253.8L518.8,254.5L507.9,255.9ZM509.3,256L512,256.5L509.9,256.9ZM560.5,259.3L563,259.5L565,259.7L562.3,260.2ZM381.4,247L388.2,246.3L396.4,246.3L401.8,247L392.3,247.7ZM329.2,298.2L330.3,298L330.4,299.1L330,300.2L329.3,299.7ZM328.7,300.9L330,300.5L330.8,301.4L330.6,303.2L329.1,303.5L328.9,302.1ZM334.4,304.7L335.9,304.5L338.7,304.4L338,306.6L336.9,306.2L334.5,305.4ZM349.5,308.5L350.8,308.2L353.3,308.5L352.6,308.9L350.1,308.8ZM361.4,308.9L363.1,308.5L364.6,307.9L363.7,309.4L362.1,309.4ZM93.2,282.2L95.5,282L93.8,282.8ZM89.3,283.2L91.5,283.2L90.7,283.9ZM87.7,284.3L88.7,283.9L88.3,284.6ZM82.5,285.2L84.3,285.1L83.3,285.5ZM79.8,285.4L81.5,285.5L80.5,285.8ZM76.1,285.9L78.1,285.8L77.1,286.2ZM73.8,286.1L75.7,285.9L74.6,286.3ZM559.6,286.1L561.6,286.5L560.7,286.7ZM552.1,284.6L553.9,284.6L553.1,285ZM85.6,278.6L86.6,278.7L85.9,278.8ZM82.2,274.2L83.3,274.4L82.5,274.6ZM84.3,269.9L87.9,270.4L85.6,270.7ZM91.1,274.4L93.1,274.2L92,275ZM107.4,277.8L110.4,277.6L110.1,278.7L108.1,279.5ZM233.2,443.5L240,442.6L240.7,443L238.6,444.2L235.2,445.6L233.2,446.9L230.5,448.4L227.7,448.4L230.5,446.3L232.5,444.6ZM371.9,449L378.7,448.3L385.5,447.6L392.3,447.3L399.1,447.9L405.9,448.3L412.7,449L419.5,451L426.3,449L433.1,447.3L439.9,447.3L446.7,446.7L453.5,446.3L460.3,446.5L467.1,446.3L473.9,446.9L480.7,447.3L487.5,446.9L494.3,446.7L501.1,446.3L507.9,447.3L514.7,448.3L521.5,449.7L528.3,450.3L535.1,451.7L371.9,451.7Z"/>
<path fill="#fff" stroke="#7c7c7c" stroke-width="0.45" stroke-linejoin="round" d="M354.9,299.4L355.6,297.3L356.5,296L357.9,294.9L359,293.5L360.6,293.1L362.4,293.9L361.7,294.9L363.1,296L365.1,295.6L367.1,294.9L368.5,295.7L370.3,296.4L371.9,297.5L374.1,299.9L371.9,300.7L369.2,300.7L366.5,299.8L364.4,299.4L362.4,299.4L359.7,300.5L356.9,300.5L355.6,299.9ZM365.1,294.9L367.1,294.8L369.2,293.3L370.8,292.3L369.2,292.4L365.8,293.7ZM382.1,294.5L382.1,298L383.5,299.7L384.8,301.8L384.1,304.1L384.4,305.5L385.9,305.9L387.9,306.6L390.8,306.3L390.9,305.1L389.9,304.1L389.6,302.1L389.2,300.5L389.4,299.2L387.3,297.6L386.9,296L389.6,294.9L389.6,293L387.3,292.4L384.8,293.3L382.8,293.3ZM397.1,293.9L399.1,294.6L400.5,296L399.1,297.1L397.1,296Z"/>
<path fill="none" stroke="#7c7c7c" stroke-width="0.4" stroke-linejoin="round" d="M149.8,289.9L188,289.9L188,289.3L188.8,290.3L193.7,290.9L195.8,291.2L197.8,290.8L202.2,292.7L202.6,293.3L203.9,293.8L205.3,294.9L205.4,298L204.5,299L204.3,299.5L207.3,299L210.1,298.3L209.8,297.6L213.5,296.7L215.9,295.3L220.3,295.3L221.3,294.8L222.3,293L223.4,292L225,292.2L225.3,294.3L226.4,295.4M125.7,261.8L125.7,274.5L128.5,274.9L130.5,276L133.2,275.2L135.9,276.9L139.3,280.3L140.7,281.3M158.2,312.3L161.5,312L166.5,313.9L170.3,313.9L172.7,313.3L175.4,316.2L177.4,317.1L179.6,316L182.2,319.1L185.3,321.3M192.1,336.8L192.1,335.7L192.8,334.6L194.6,334.6L194.6,332.3L196.3,332.3L197.4,331.3M196.3,332.3L196.2,334.9L197.5,335.1M196.2,334.9L196.2,336.9L195,337.9M196.2,336.9L198.1,337.6L198.1,338.5M204.3,336.1L201.9,337.5L199.9,337.7L198.8,339M203.7,341.5L200.9,341.4M205.2,343.4L204.8,345.5M220,329.7L219.9,331.9M220.5,340.5L218.9,341.5L219.2,344.9L222.3,347L225.7,348.1L225.3,350.4L226,353.8L226.4,354.9M226.4,354.9L222.6,355L223,357.9L222.3,362.2M210.3,354.6L212.8,356L215.1,356.6L218.2,359.9L222.3,362.2M208.3,361.1L210.1,363.3L211.4,360.6L215.1,356.6M222.3,362.2L218.2,366.4L218.9,369.4L221.6,371.5L223.7,373.5L223.1,377.6L223,380.3L221.8,381.4M223,371.5L228.7,369.8L230.5,373.5L233.2,374.9L235.5,376.9L238.6,378.7L238.6,383.4M223,380.3L224.3,383L225,385.7L226.1,387.5L229.8,386.4L232.1,386.4M232.1,386.4L233.6,383.2L238.6,383.4M226.1,387.5L224.3,391.9L223,395.3L222.3,401.4L221.6,405.5L220.7,409.5L219.9,413.6L219.6,417.7L218.9,421.8L217.8,425.2L220.3,427.2L224.3,427.6M224.2,428L224.2,431.3M232.1,386.4L237.3,391.2L239.2,393.6L241.7,393.8L243.2,391.3L242,387.1L238.9,386.6L238.6,383.4M243.2,391.3L244.3,393.4L241.7,395.3L239.2,397.6L238.1,402.5M239.2,397.6L241.3,398.7L245,402.3M226.4,354.9L230.5,351.1L234.5,350.4L235.2,349.4L234.1,347.4L235.9,344.9M235.2,349.4L235.9,354.2L238.6,354.5L242.7,353.4L246.8,353.2L247.3,350.8M239.8,348.5L238.6,353.8M244.1,348.7L243.7,353.4M315.1,308.8L315.2,312.3L310.7,315L305.7,317.5L305.7,318.8M299.5,318.8L305.7,318.8L305.7,321.1L301.2,321.1L301.2,324.5L299.8,327.5L294.4,327.5M305.7,319.4L311,322.5L308.7,322.6L310,334.1L301.9,335.4L300.9,336.5L295.1,334.5M311,322.5L319.1,327.9L323.2,330.4L325.4,330L333.8,324.5L330.4,320.7L331.1,315L333.1,311.5M329.1,306.3L328.7,309.6L330.4,315.4L331.1,315M351.5,313.4L351.5,326.6M333.8,324.5L336.5,325.2L338.6,325.2L350.1,330L350.1,329.3L351.5,329.3L351.5,326.6M351.5,326.6L367.7,326.6M338.6,325.2L338.6,328.6L335.9,338.1M350.1,330L348.1,336.1L347.4,339.5L348.5,341.5M337.2,339.5L338.3,342.9L339.3,346L343.3,344.3L348.5,341.5M323.2,330.4L322.3,335.6L318.9,336.1L317.8,336.8L318.9,338.8L320.6,339.6L322.4,340.6M322.4,340.6L322.9,338.1L327,338.5L330.4,339.1L334.1,338.7L335.9,338.1M321.2,347.8L321.3,344.3L322.4,340.6M329.1,350.2L330.4,347.7L333.7,347L335.9,342.2L337.2,339.5M300.9,336.5L302,339.6L298.9,339.4L294.8,339.6M302,339.6L305.9,341.1L306.8,342.6L309.1,342.2L310,342.4M310,342.4L310.2,340.5L311.5,339.2L314.8,337.2L317.8,336.8M310,342.4L313.6,341.5L317.5,341.5L318.7,341.5L320.6,339.6M313.3,349.6L313.1,347L314.1,344.9L313.6,341.5M319.1,348.2L318.2,345.6L317.5,341.5M319.7,348.1L319.7,344.3L318.7,341.5M307.3,350.5L305.9,346.3L306.8,342.6M299.4,343.6L301.9,343L303.5,344.9L301.9,347.3M297.1,341.7L298.9,339.4M367.7,326.6L369.9,332L367.1,337.1L365.8,339.5L364.1,342.2L363.7,344.9L365.8,349.7M367.1,337.1L371.9,336.8L375.3,339.5M375.3,339.5L374.3,341.5L376.3,340.9M375.7,341.5L378,344.3L382.8,345.6L378.7,349.7L374.6,351.1M373.3,351.1L373.3,358.7M365.8,349.7L367.8,350.7L370.5,351.7L373.3,351.1M348.5,341.5L350.1,344.3L354.2,343.4L358.3,343.2L362.4,342.2L364.1,342.2M365.8,349.7L363.7,350.8L363.1,351.3L359.7,351.7L355.6,350.4L354.8,349.7M354.8,349.7L351.5,349.7L348.1,350.8L342.7,351.6L339.3,353.8M339.3,346L337.2,349.7L339.3,353.8M330.8,353.4L332.9,353.5L335.2,353.5L339.3,353.8M332.9,353.5L335.2,354.7L337.2,357.2L336.3,359.9L332.7,361.8M342.7,351.6L341.7,356.5L339.5,359.2L338.2,362.3L334.1,364.4M334.1,364.7L339.9,367.2L342,367.4L346.7,366.3L347.4,369.8L350.1,371.5M350.1,371.5L350.1,374.2L347.4,374.2L347.4,378.5L349.3,380.4M333.5,380L336.5,380.2L342.7,380.2L345.8,381L349.3,380.4L351.9,380.7M350.1,371.5L351.5,371.9L354.2,372.3L356.3,373.5L358,374.7L357.8,373.2L357.2,368.1L359,367.8M359.4,351.6L357.8,355.8L357.8,358.4L356.9,360.3L357.2,362.6M363.7,350.8L365.1,354.5L363.7,357.9M363.7,357.9L368.5,360.6L370.8,362.8M359,357.9L363.7,357.9M357.8,358.4L359,357.9L359.4,359.9L358.6,362.3M359,367.8L362.2,369.3L363.7,369.4M365.1,371.9L367.8,372.3L372.6,370.8M362.4,369.4L362.8,373.5L362.1,375.1L358.6,377.3M364.4,375.8L365.5,375.5L366.2,378.3L365.4,379.6L364.1,378.7M351.9,380.7L354.2,380.3L356.3,378.9L358.6,377.9M358.6,377.9L362.2,379.1L362.1,383L361,386.7L360.1,387M351.9,380.7L352.9,383.4L354.9,385.7L356.9,386.7L360.1,387M344.7,381L344.7,386.4L344.7,390.2L345.8,392.9L348.1,391.6L352.2,391.5L353.8,389.8L356.9,386.7M344.7,390.2L344.7,395.1L340.6,395.4L339.9,395.4M360.1,387L361,389.1L361,392.3L362.2,393.1M354.2,396.8L356,395.4L357.5,396.8L355.9,398.1L354.2,396.8M305.4,299.5L308.7,299.8L308.3,301.8L308,303.5L307.4,305.9M315.1,297.5L317.5,298.4L321.9,298.8M320.9,287L323.2,288.5L325.4,289.2L326.3,289.6L328.7,289.9L327.8,291.8L325.7,293.5L327,294.1L326.5,295.3L327.7,296.9M322.1,286.7L324.3,286.5L325.7,287.5M325.7,287.5L325.9,288.4L325.4,289.2M327.3,284.1L327,285.5L325.7,286.1L325.7,287.5M329.3,281.8L331,282M336.8,283.2L337.4,285.1L337.9,287.1L337.6,287.3M337.6,287.3L334.5,288L334,288.1L336.3,290.1M336.3,290.1L335.2,291.9L331.8,291.9L330.6,291.9M330.6,291.9L329.2,291.6L327.8,291.8M325.7,293.5L327,294.1L329.1,293.7L330.1,293.3L331.8,293.1L330.6,291.9M331.8,292.7L333.8,292.6L336.1,293.3M336.3,290.1L337.9,289.9L340.6,290.4L340.6,291.5L339.7,292.7L336.1,293.3M336.1,293.3L336,294.2M336,294.6L338.6,294.6L339.7,293.3M340.6,290.4L343.1,291.2L345.4,290.5L347.7,290.7L348.6,291.4L346.7,293.3L345,293.8L343.1,294.1L340.1,293.3M348.6,291.4L350.8,291.4L353.7,290.8L355.9,293.1L355.9,294.6L357.9,295M345,293.8L346.6,295.3L348.1,296.4L350.1,297.1L354.2,296.5L356.4,296.9M348.1,296.4L347.8,298.3L348.6,300.2L353,299.8L355.6,299.4M345.9,301L348.6,300.2M344.7,302.5L345.9,301M343.9,299.4L345.4,299L345.9,301M343.6,297.3L345.1,298.3L346.7,299L347.8,299M343.6,297.3L342.7,298.7M343.1,294.1L343.3,295.3L343.9,295.4L343.6,297.3M343.9,295.4L340.6,295.2L339,295.7L339.9,297.6L342.7,298.7M337.6,287.3L339.9,288.1L342.7,288.6L344,289.2L348.1,289.7M340.6,290.4L342.7,289.2M348.1,289.7L350.1,287.8L349.5,285.8L350,283.2L348.5,282.5L344.2,282.5M346.1,280.2L350.1,279.9L353.7,280.7M347.1,278.2L350.8,277.8L354.8,278.2M350,283.2L352.2,282.8L353.9,281.3L355.9,280.2L355.2,278.2L354.8,276.9L355.6,275.7M349.6,286.5L351.5,285.9L354.2,286.3L359,286.7L360.7,285.6M360.7,285.6L361.7,283.6L359.5,280.9L355.9,280.2M360.7,285.6L363.7,285.4L365.9,288L369.2,288.5L371.9,289L372,291.2L369.5,292.4M353.7,290.8L354.9,290.5L356.9,291.5L358.3,293.3L355.9,294.6M355.3,274.2L357.8,273.3L360.3,271L358.3,269.9L358.3,268.1L357.6,266.1L358.3,264.4L356.5,263.3L356.9,261.7L359.5,261.8M350.1,267L349.6,265.4L349.5,264L345.4,262.5M345.4,262.5L347,262.3L350.8,263.1L352.6,262L354.1,261.3L356.3,262.4M333.1,276.4L334.2,274.9L334.5,272.9L334.1,270.4L336.7,268.9L338.2,266.5L341.3,264L345.4,262.5M353,299.8L353.7,300.3L353.3,300.9M374.1,299.9L375.7,299.9L376.7,300.6L378.4,302.5L377.7,304.4L378.4,305.9L375,306L373.3,306L369.2,306.5L367.3,306.5L366.6,307.7M366.3,309.4L367.3,310L366.2,311.2M365.2,311.5L366.2,311.2M366.2,311.2L365.9,312L365.8,313.7L365.1,316.4M365.9,312L367.5,312.6L370.5,312.6L373.3,309.7L375,306M367.5,312.6L370.5,313L367.8,314.3L369.2,315.7L367.1,316.4L365.1,316.4M370.5,312.6L373.9,313.9L378.3,316.8L380.7,316.9L382.4,316.7L383.3,317.7M378.4,305.9L379.4,307.8L380.1,308.9L379.2,310.3L380.7,311.6L382.5,313.3L382.8,315L383.5,315.7M375.7,334.1L377.6,332.8L381.4,333.4L383.9,331.6L388.2,330.7L393.3,329.3L392.3,325.6L388.2,325.2L387.5,323.5M388.2,330.7L389.7,333.8M392.3,325.6L393.7,323.9L394.1,320.7M390.8,305.8L393,304.8L395.7,304.5L398.4,305.5L400.5,306.7L400.7,308.1L400.2,309.7L400.5,313.7L401.5,314.6L400.3,316L402.5,316.5L403.9,319.5L401.3,322.2M378.4,302.5L380.1,303.6L382.5,302.6L383.9,304.3M371.9,297.5L374.6,297.7L377.3,298.4L380.7,299.5L383.5,299.7M375.7,299.9L378.6,300.5L380.7,300.6L380.7,299.5M376.7,300.6L378.7,300.7L379.5,302.1L380.7,303.5L378.4,302.5M384.8,293.1L382.1,291.9L381.4,289.6L383.5,288.5L386.2,286.5L389.6,286.5L393,287.8L396.4,287.1L400.5,287.4L401.1,285.8L400.5,283.7L405.9,282.4L411.3,281.3L416.8,283.1L421.5,282.8L421.9,284L426.3,287.1L429,287.4L431.7,288.2L433.8,289.2L436.2,289.7M436.2,289.7L434.1,292.6L430.4,292.3L429.4,294.6L426.3,295.3L426.6,299.1M426.6,299.1L420.9,298L418.1,297.7L414.1,299L411.3,300.1L407.3,298L400.5,296.1L397.1,294.6L393.7,295.3L393.7,300.3L389.6,299.4M393.7,300.3L397.1,298.7L400.5,300.7L401.8,302.1L404.5,303.5L407.9,305.6M400.7,308.1L402.5,308.5L405.2,307.1L407.9,305.6M407.9,305.6L410,306.2L412.7,305.5L414.7,306.2L419.4,305.9M409.3,302.8L412.7,302.1L417.5,302.8M414.1,299L412.7,300.7L414.7,301.4L417.5,302.8M426.6,299.1L422.2,300.7L419.5,301.4L417.9,302.8L419.4,305.9M414.7,306.2L414.3,308.2L412.7,310.3L412,311.6L411.7,313.1L408.6,313.9L407.8,315.8L402.5,316.5M423.3,308.2L419.2,309.6L418.8,311.9L420,312.6L418.8,314.2L418.1,315.7L414.7,318.4L412.7,319.1L412,320.5L413.7,321.5L413,323.3L411.1,323.5L410.3,324.3M419.4,305.9L423.3,308.2L424.9,309.9L425.6,312.3L424.7,313.7L426.6,315.2L427.8,315.4L431.7,317.7L437.2,318.6L438.3,319.4L442.6,318.8L445.3,317.6L449.4,318.1L449.8,319.1M426.4,317.3L430.8,319.2L433.1,319.8L437.3,320.5L437.2,318.6M438.3,319.4L439.6,320.1L442.6,319.9L442.6,318.8M437.3,320.5L438.4,321.1L437.9,322.2L438.4,324L438.3,327M439.6,321.1L442.6,322.4L443,323.6L442.1,325.2L443.3,326.6L443,327.9M449.8,319.1L447.4,320.3L446.2,322.5L444.4,323.9L443.3,326.6M449.8,319.1L451.5,321.8L450.5,323.9L452,324.9L452.8,326.6L454.9,327M454.9,327L453.6,328.8L450.8,331.3L451.5,333.4L451.9,335.4L452.1,338.8L452.8,342.2L451.5,342.9M453.6,328.8L455.5,330L454.9,332.6L456.9,332L460,332.7L461,337.1L457.6,337.1L456.9,339.5M456.4,326L458.9,328.6L459.9,331.3L463.7,335.4L463.7,336.8M463.7,336.8L461.7,340.9L459.6,342.2M454.9,327L456.4,326L458.3,325.6L461,324.9L462.6,325.5L464.4,327.3M453.9,347.7L456.4,348.1M436.9,289.6L439.9,291.5L441.3,293.9L444.7,295.3L448.7,298.4L454.6,298.7L460.3,300.1L463,298.8L467.1,298.6L469.7,297.1L472.5,295.4L476.2,293.4L480,292.6L477.7,291.5L475.3,291.5L475.9,288.6M436.9,289.6L439.9,287.8L442.6,287.5L446.7,288.5L450.1,288.8L451.1,285.6L453.5,286.2L456.9,286.7L459.6,288.1L463,288L465.1,289.5L468.1,289.7L472.5,288.2L475.9,288.6M475.9,288.6L477.7,289.2L480,288.1L481.8,285.4L483.4,283.9L487.5,284.1L490.2,285.8L491.6,289L495.3,290L498.4,290.8L501.1,290.7L500.7,291.9L499.1,295.3L496.1,295.4L495.7,298.2L495.3,298.8M486.4,302.2L489,299.9L492,299.4L493.9,298.8M489,305.1L490.9,304.4L492,304M477.3,350.8L475,350.8L473.2,354.5L469.8,354.5L467.8,355.1M509.3,360L509.3,368.9M487.5,369.1L486.8,369.6"/>
</g>
<path fill="none" stroke="#8c8c8c" stroke-width="1" d="M48.5,224.0V448.5H586.5"/>
<path fill="none" stroke="#8c8c8c" stroke-width="1" d="M45.5,424.5H48.5M45.5,356.5H48.5M45.5,288.5H48.5M181.5,448.5v3M317.5,448.5v3M453.5,448.5v3"/>
<g font-size="10.8" fill="#222">
<text x="43.4" y="292.6" text-anchor="end">50</text>
<text x="43.4" y="360.6" text-anchor="end">0</text>
<text x="43.4" y="428.6" text-anchor="end">−50</text>
<text x="181.5" y="461.7" text-anchor="middle">−100</text>
<text x="317.5" y="461.7" text-anchor="middle">0</text>
<text x="453.5" y="461.7" text-anchor="middle">100</text>
</g>
<text x="312" y="475.2" font-size="10.8" text-anchor="middle" fill="#111">Longitude</text>
<text transform="translate(19.6,341) rotate(-90)" font-size="10.8" text-anchor="middle" fill="#111">Latitude</text>
<path d="M183.10,315.40L183.10,307.40A8.0,8.0 0 1 1 180.36,307.88Z" fill="#3370b4" stroke="#111" stroke-width="0.55" stroke-linejoin="round"/>
<path d="M183.10,315.40L180.36,307.88A8.0,8.0 0 0 1 181.85,307.50Z" fill="#f79797" stroke="#111" stroke-width="0.55" stroke-linejoin="round"/>
<path d="M183.10,315.40L181.85,307.50A8.0,8.0 0 0 1 183.10,307.40Z" fill="#f0c043" stroke="#111" stroke-width="0.55" stroke-linejoin="round"/>
<path d="M207.80,334.00L207.80,329.80A4.2,4.2 0 1 1 206.36,337.95Z" fill="#3370b4" stroke="#111" stroke-width="0.55" stroke-linejoin="round"/>
<path d="M207.80,334.00L206.36,337.95A4.2,4.2 0 0 1 207.80,329.80Z" fill="#f79797" stroke="#111" stroke-width="0.55" stroke-linejoin="round"/>
<path d="M225.90,350.10L225.90,343.00A7.1,7.1 0 1 1 219.15,347.91Z" fill="#3370b4" stroke="#111" stroke-width="0.55" stroke-linejoin="round"/>
<path d="M225.90,350.10L219.15,347.91A7.1,7.1 0 0 1 219.88,346.34Z" fill="#f79797" stroke="#111" stroke-width="0.55" stroke-linejoin="round"/>
<path d="M225.90,350.10L219.88,346.34A7.1,7.1 0 0 1 225.90,343.00Z" fill="#f0c043" stroke="#111" stroke-width="0.55" stroke-linejoin="round"/>
<path d="M227.30,371.90L227.30,364.80A7.1,7.1 0 1 1 220.92,368.79Z" fill="#3370b4" stroke="#111" stroke-width="0.55" stroke-linejoin="round"/>
<path d="M227.30,371.90L220.92,368.79A7.1,7.1 0 0 1 224.19,365.52Z" fill="#f79797" stroke="#111" stroke-width="0.55" stroke-linejoin="round"/>
<path d="M227.30,371.90L224.19,365.52A7.1,7.1 0 0 1 227.30,364.80Z" fill="#f0c043" stroke="#111" stroke-width="0.55" stroke-linejoin="round"/>
<path d="M231.40,395.50A5.1,5.1 0 1 1 231.40,405.70A5.1,5.1 0 1 1 231.40,395.50Z" fill="#3370b4" stroke="#111" stroke-width="0.55" stroke-linejoin="round"/>
<path d="M231.4,400.6V395.5" stroke="#111" stroke-width="0.55"/>
<path d="M322.80,285.70A5.1,5.1 0 1 1 322.80,295.90A5.1,5.1 0 1 1 322.80,285.70Z" fill="#3370b4" stroke="#111" stroke-width="0.55" stroke-linejoin="round"/>
<path d="M322.8,290.8V285.7" stroke="#111" stroke-width="0.55"/>
<path d="M345.80,301.00L345.80,292.20A8.8,8.8 0 1 1 344.27,292.33Z" fill="#3370b4" stroke="#111" stroke-width="0.55" stroke-linejoin="round"/>
<path d="M345.80,301.00L344.27,292.33A8.8,8.8 0 0 1 344.73,292.27Z" fill="#f79797" stroke="#111" stroke-width="0.55" stroke-linejoin="round"/>
<path d="M345.80,301.00L344.73,292.27A8.8,8.8 0 0 1 345.49,292.21Z" fill="#f0c043" stroke="#111" stroke-width="0.55" stroke-linejoin="round"/>
<path d="M360.80,286.80L360.80,280.20A6.6,6.6 0 1 1 358.54,280.60Z" fill="#3370b4" stroke="#111" stroke-width="0.55" stroke-linejoin="round"/>
<path d="M360.80,286.80L358.54,280.60A6.6,6.6 0 0 1 360.22,280.23Z" fill="#f79797" stroke="#111" stroke-width="0.55" stroke-linejoin="round"/>
<path d="M378.60,307.20L378.60,303.10A4.1,4.1 0 1 1 374.64,306.14Z" fill="#3370b4" stroke="#111" stroke-width="0.55" stroke-linejoin="round"/>
<path d="M378.60,307.20L374.64,306.14A4.1,4.1 0 0 1 374.75,305.80Z" fill="#f79797" stroke="#111" stroke-width="0.55" stroke-linejoin="round"/>
<path d="M378.60,307.20L374.75,305.80A4.1,4.1 0 0 1 378.60,303.10Z" fill="#f0c043" stroke="#111" stroke-width="0.55" stroke-linejoin="round"/>
<path d="M358.60,315.90A4.5,4.5 0 1 1 358.60,324.90A4.5,4.5 0 1 1 358.60,315.90Z" fill="#3370b4" stroke="#111" stroke-width="0.55" stroke-linejoin="round"/>
<path d="M358.6,320.4V315.9" stroke="#111" stroke-width="0.55"/>
<path d="M404.60,298.90A1.4,1.4 0 1 1 404.60,301.70A1.4,1.4 0 1 1 404.60,298.90Z" fill="#3370b4" stroke="#111" stroke-width="0.55" stroke-linejoin="round"/>
<path d="M404.6,300.3V298.9" stroke="#111" stroke-width="0.55"/>
<path d="M311.10,344.70L311.10,334.80A9.9,9.9 0 1 1 301.30,346.08Z" fill="#3370b4" stroke="#111" stroke-width="0.55" stroke-linejoin="round"/>
<path d="M311.10,344.70L301.30,346.08A9.9,9.9 0 0 1 301.63,341.81Z" fill="#f79797" stroke="#111" stroke-width="0.55" stroke-linejoin="round"/>
<path d="M311.10,344.70L301.63,341.81A9.9,9.9 0 0 1 311.10,334.80Z" fill="#f0c043" stroke="#111" stroke-width="0.55" stroke-linejoin="round"/>
<path d="M341.00,347.70L341.00,343.60A4.1,4.1 0 1 1 337.15,346.30Z" fill="#3370b4" stroke="#111" stroke-width="0.55" stroke-linejoin="round"/>
<path d="M341.00,347.70L337.15,346.30A4.1,4.1 0 0 1 340.43,343.64Z" fill="#f79797" stroke="#111" stroke-width="0.55" stroke-linejoin="round"/>
<path d="M363.40,359.70L363.40,353.90A5.8,5.8 0 0 1 366.30,364.72Z" fill="#3370b4" stroke="#111" stroke-width="0.55" stroke-linejoin="round"/>
<path d="M363.40,359.70L366.30,364.72A5.8,5.8 0 0 1 362.89,365.48Z" fill="#f79797" stroke="#111" stroke-width="0.55" stroke-linejoin="round"/>
<path d="M363.40,359.70L362.89,365.48A5.8,5.8 0 0 1 363.40,353.90Z" fill="#f0c043" stroke="#111" stroke-width="0.55" stroke-linejoin="round"/>
<path d="M352.40,379.70L352.40,371.10A8.6,8.6 0 1 1 350.91,371.23Z" fill="#3370b4" stroke="#111" stroke-width="0.55" stroke-linejoin="round"/>
<path d="M352.40,379.70L350.91,371.23A8.6,8.6 0 0 1 351.50,371.15Z" fill="#f79797" stroke="#111" stroke-width="0.55" stroke-linejoin="round"/>
<path d="M352.40,379.70L351.50,371.15A8.6,8.6 0 0 1 352.10,371.11Z" fill="#f0c043" stroke="#111" stroke-width="0.55" stroke-linejoin="round"/>
<path d="M458.20,308.10L458.20,294.40A13.7,13.7 0 1 1 444.55,306.91Z" fill="#3370b4" stroke="#111" stroke-width="0.55" stroke-linejoin="round"/>
<path d="M458.20,308.10L444.55,306.91A13.7,13.7 0 0 1 456.29,294.53Z" fill="#f79797" stroke="#111" stroke-width="0.55" stroke-linejoin="round"/>
<path d="M458.20,308.10L456.29,294.53A13.7,13.7 0 0 1 457.48,294.42Z" fill="#f0c043" stroke="#111" stroke-width="0.55" stroke-linejoin="round"/>
<path d="M433.10,322.40L433.10,308.70A13.7,13.7 0 1 1 419.87,318.85Z" fill="#3370b4" stroke="#111" stroke-width="0.55" stroke-linejoin="round"/>
<path d="M433.10,322.40L419.87,318.85A13.7,13.7 0 0 1 420.58,316.83Z" fill="#f79797" stroke="#111" stroke-width="0.55" stroke-linejoin="round"/>
<path d="M433.10,322.40L420.58,316.83A13.7,13.7 0 0 1 433.10,308.70Z" fill="#f0c043" stroke="#111" stroke-width="0.55" stroke-linejoin="round"/>
<path d="M462.10,342.30L462.10,327.80A14.5,14.5 0 1 1 447.78,344.57Z" fill="#3370b4" stroke="#111" stroke-width="0.55" stroke-linejoin="round"/>
<path d="M462.10,342.30L447.78,344.57A14.5,14.5 0 0 1 448.47,337.34Z" fill="#f79797" stroke="#111" stroke-width="0.55" stroke-linejoin="round"/>
<path d="M462.10,342.30L448.47,337.34A14.5,14.5 0 0 1 462.10,327.80Z" fill="#f0c043" stroke="#111" stroke-width="0.55" stroke-linejoin="round"/>
<path d="M494.30,304.90L494.30,296.10A8.8,8.8 0 1 1 492.17,296.36Z" fill="#3370b4" stroke="#111" stroke-width="0.55" stroke-linejoin="round"/>
<path d="M494.30,304.90L492.17,296.36A8.8,8.8 0 0 1 493.84,296.11Z" fill="#f79797" stroke="#111" stroke-width="0.55" stroke-linejoin="round"/>
<path d="M516.10,377.80A5.5,5.5 0 1 1 516.10,388.80A5.5,5.5 0 1 1 516.10,377.80Z" fill="#3370b4" stroke="#111" stroke-width="0.55" stroke-linejoin="round"/>
<path d="M516.1,383.3V377.8" stroke="#111" stroke-width="0.55"/>
<path fill="none" stroke="#222" stroke-width="0.6" d="M179.2,304.6L182,308.6M197.8,328.2L204.6,331M230,354.5Q236,366 249.5,368.4M212,377.6Q213,373.5 221,374M235.6,403.9L241.3,408.3M322.6,281.5L322.8,290M334.6,303.2L337.5,302.6M365.6,284L370.3,279.3M382.3,309.8Q385,312.3 388.6,312.2M349.2,322.6L354.3,321.8M408.3,297.7L413.4,293.6M295.5,345.4L301.5,345M345.2,347.7L351.4,347.2M364.4,362L372.8,370M352.2,380L351.4,386.6M464.2,309.5Q467,312.5 469.7,312.6M433.6,327L434.2,331.4M466.5,345.2L472.5,351.5L479,353M497.1,301.6L502.4,297M521.6,382.5L526.2,381.6"/>
<g font-size="7" fill="#111">
<text x="132.3" y="306.3">North America</text>
<text x="105.6" y="329.7">Central America &amp; Caribbean</text>
<text x="250.9" y="371.3">Northern South America</text>
<text x="163.2" y="386.3">Central South America</text>
<text x="206.0" y="415.3">Southern South America</text>
<text x="268.8" y="281.6">Western Europe</text>
<text x="281.9" y="305.6">Southern Europe</text>
<text x="350.0" y="277.2">Eastern Europe</text>
<text x="381.2" y="318.9">Western Asia</text>
<text x="311.2" y="327.0">North Africa</text>
<text x="415.6" y="294.0">Central Asia</text>
<text x="258.9" y="349.2">West Africa</text>
<text x="352.2" y="349.3">Central Africa</text>
<text x="373.7" y="373.8">East Africa</text>
<text x="299.8" y="393.8">Southern Africa</text>
<text x="469.3" y="319.7">China</text>
<text x="417.8" y="338.5">South Asia</text>
<text x="463.0" y="360.3">Southeast Asia</text>
<text x="505.6" y="296.8">East Asia</text>
<text x="527.2" y="382.7">Oceania</text>
</g>
<text x="604.8" y="307.8" font-size="10.7" fill="#111">Haplotype</text>
<rect x="605.4" y="316.1" width="19.6" height="19.9" fill="#3370b4" stroke="#333" stroke-width="0.6"/>
<text x="631.6" y="329.7" font-size="10.6" fill="#111">Hap1</text>
<rect x="605.4" y="336.1" width="19.6" height="19.9" fill="#f79797" stroke="#333" stroke-width="0.6"/>
<text x="631.6" y="349.7" font-size="10.6" fill="#111">Hap2</text>
<rect x="605.4" y="356.1" width="19.6" height="19.9" fill="#f0c043" stroke="#333" stroke-width="0.6"/>
<text x="631.6" y="369.7" font-size="10.6" fill="#111">Hap3</text>
</svg>
</body></html>
